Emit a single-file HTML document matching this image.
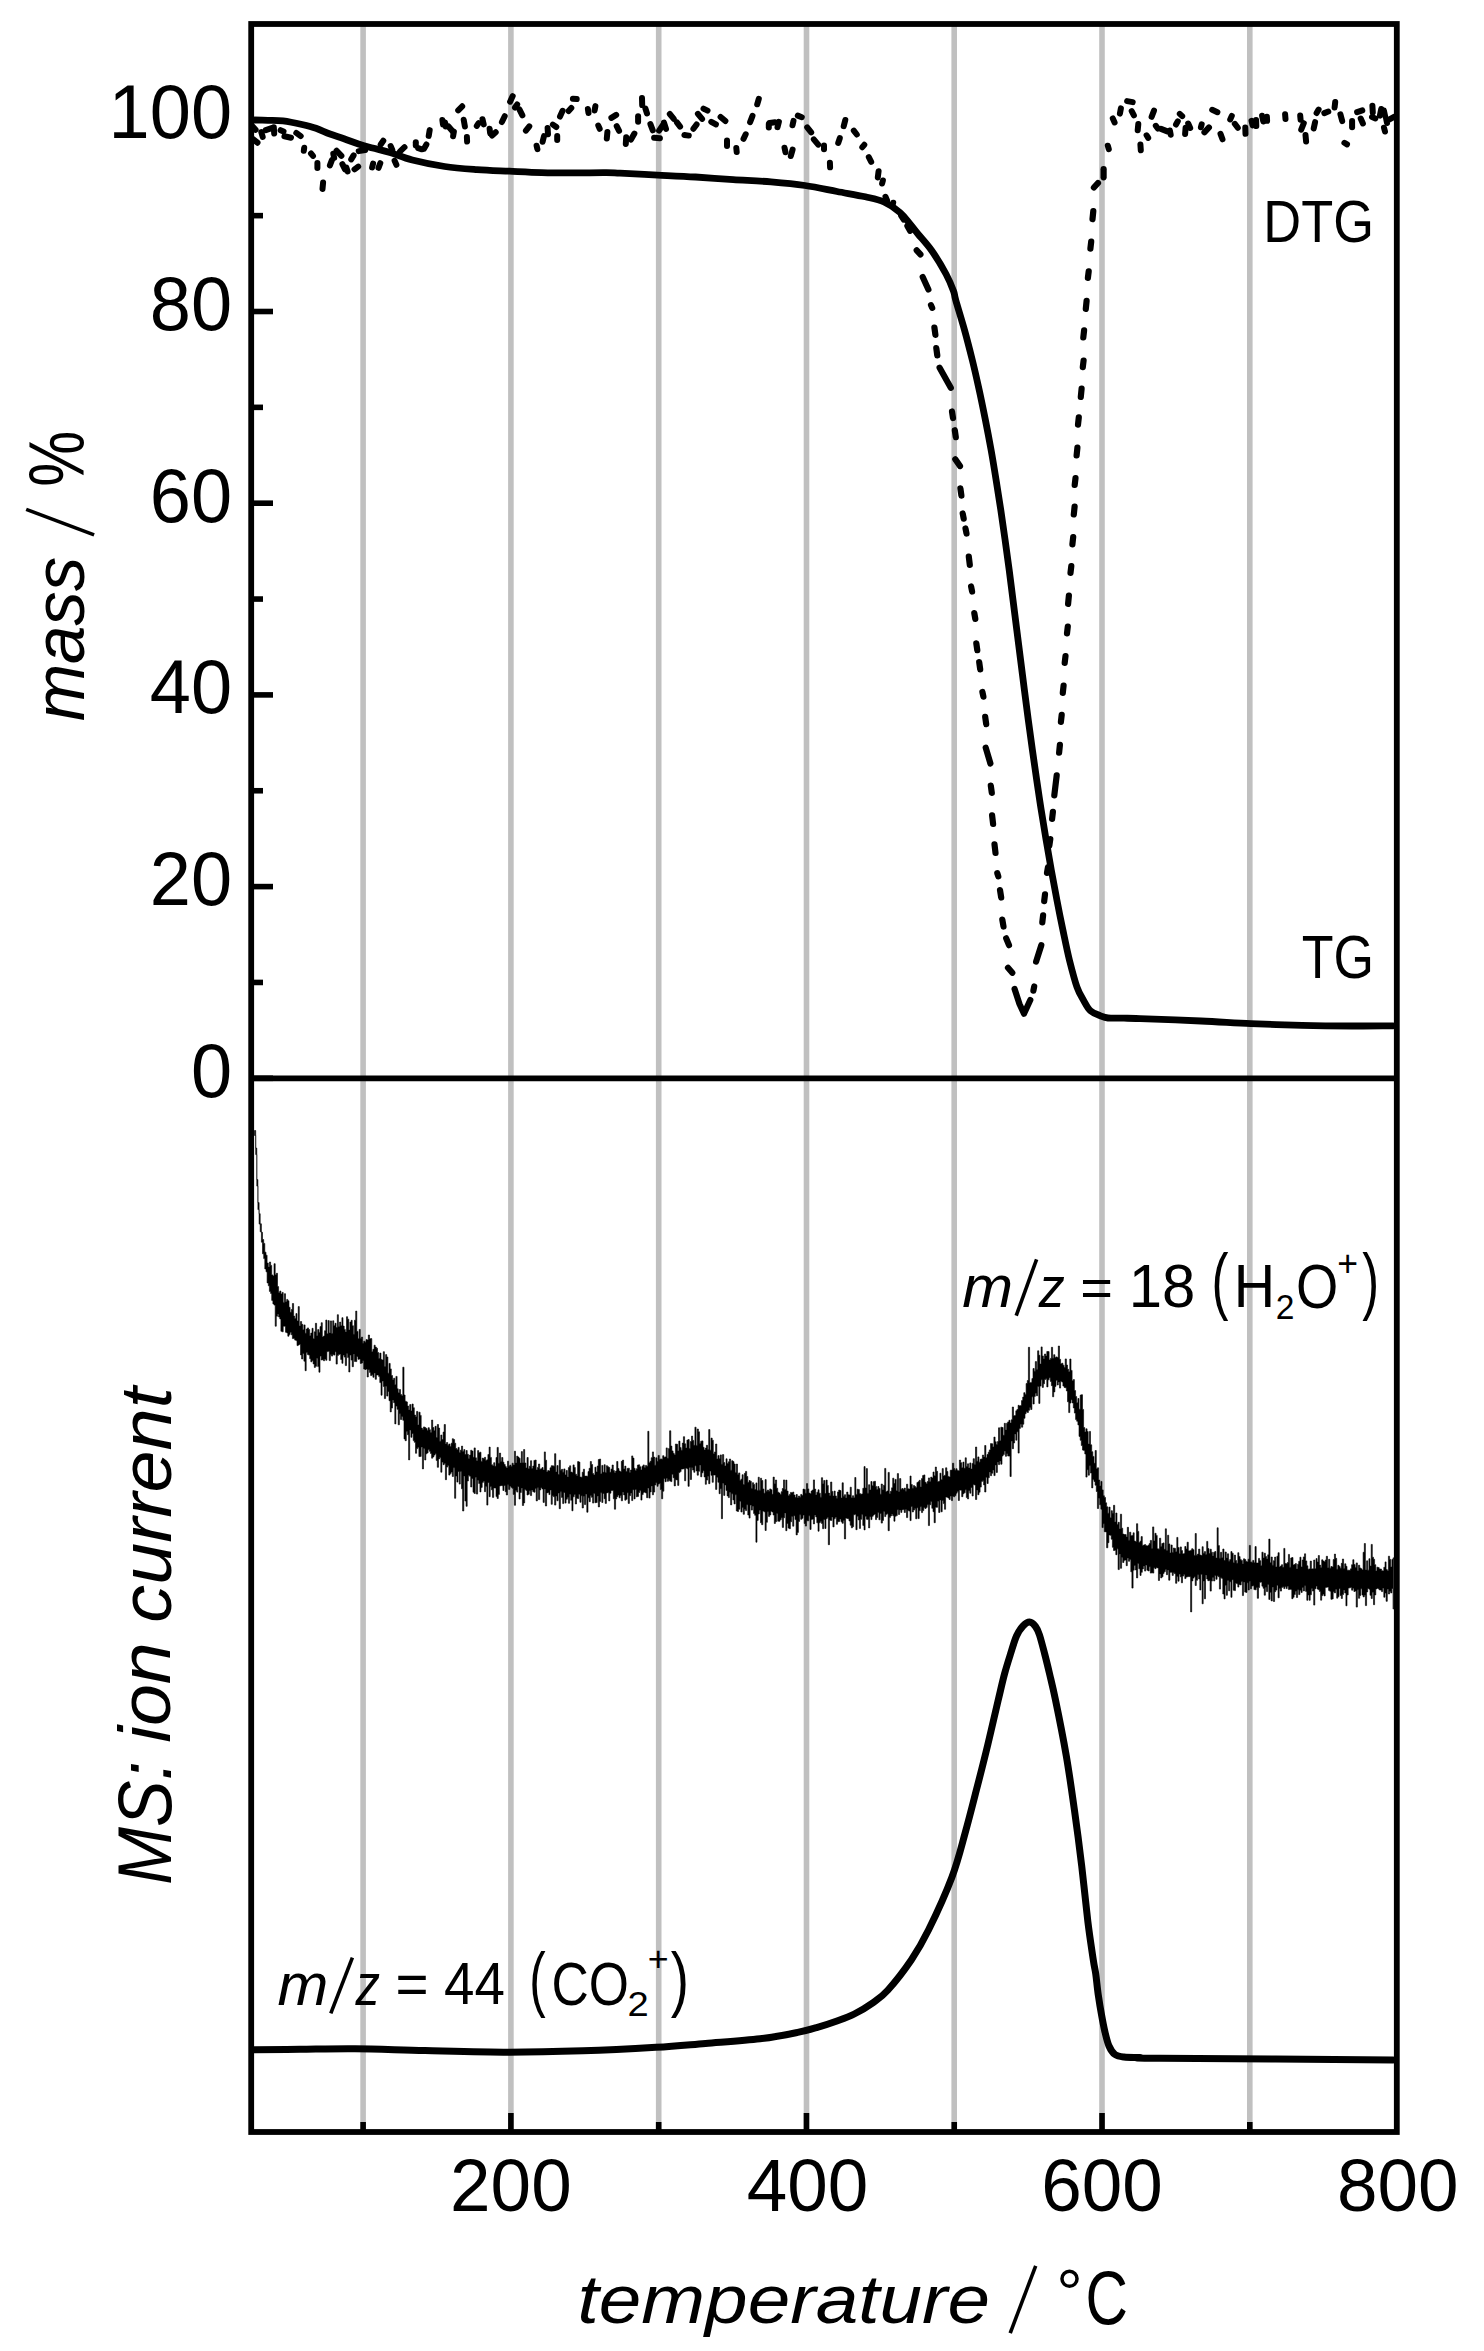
<!DOCTYPE html>
<html><head><meta charset="utf-8"><title>TG-MS</title>
<style>html,body{margin:0;padding:0;background:#fff;width:1484px;height:2351px;overflow:hidden}svg{display:block}</style>
</head><body>
<svg xmlns="http://www.w3.org/2000/svg" width="1484" height="2351" viewBox="0 0 1484 2351"><rect x="0" y="0" width="1484" height="2351" fill="#fff"/>
<line x1="363.1" y1="24.0" x2="363.1" y2="2132.0" stroke="#c0c0c0" stroke-width="5.6"/>
<line x1="510.9" y1="24.0" x2="510.9" y2="2132.0" stroke="#c0c0c0" stroke-width="5.6"/>
<line x1="658.7" y1="24.0" x2="658.7" y2="2132.0" stroke="#c0c0c0" stroke-width="5.6"/>
<line x1="806.5" y1="24.0" x2="806.5" y2="2132.0" stroke="#c0c0c0" stroke-width="5.6"/>
<line x1="954.2" y1="24.0" x2="954.2" y2="2132.0" stroke="#c0c0c0" stroke-width="5.6"/>
<line x1="1102.0" y1="24.0" x2="1102.0" y2="2132.0" stroke="#c0c0c0" stroke-width="5.6"/>
<line x1="1249.8" y1="24.0" x2="1249.8" y2="2132.0" stroke="#c0c0c0" stroke-width="5.6"/>
<path d="M254.5,1130.5 L255.7,1130.5 L255.7,1148.1 L256.8,1148.1 L256.8,1179.6 L257.9,1179.6 L257.9,1202.6 L259.1,1202.6 L259.1,1213.7 L260.2,1213.7 L260.2,1223.8 L261.4,1223.8 L261.4,1232.3 L262.5,1232.3 L262.5,1239.5 L263.7,1239.5 L263.7,1243.4 L264.8,1243.4 L264.8,1252.2 L266.0,1252.2 L266.0,1255.2 L267.1,1255.2 L267.1,1263.1 L268.3,1263.1 L268.3,1266.9 L269.4,1266.9 L269.4,1262.0 L270.6,1262.0 L270.6,1265.4 L271.7,1265.4 L271.7,1274.9 L272.9,1274.9 L272.9,1275.9 L274.0,1275.9 L274.0,1263.7 L275.2,1263.7 L275.2,1274.8 L276.3,1274.8 L276.3,1273.3 L277.5,1273.3 L277.5,1286.6 L278.6,1286.6 L278.6,1292.4 L279.8,1292.4 L279.8,1291.0 L280.9,1291.0 L280.9,1294.0 L282.1,1294.0 L282.1,1292.4 L283.2,1292.4 L283.2,1302.4 L284.4,1302.4 L284.4,1293.7 L285.5,1293.7 L285.5,1301.7 L286.7,1301.7 L286.7,1299.4 L287.8,1299.4 L287.8,1300.8 L289.0,1300.8 L289.0,1307.3 L290.1,1307.3 L290.1,1312.3 L291.3,1312.3 L291.3,1309.5 L292.4,1309.5 L292.4,1303.5 L293.6,1303.5 L293.6,1316.1 L294.7,1316.1 L294.7,1318.4 L295.9,1318.4 L295.9,1313.6 L297.0,1313.6 L297.0,1320.9 L298.2,1320.9 L298.2,1306.6 L299.3,1306.6 L299.3,1326.0 L300.5,1326.0 L300.5,1321.5 L301.6,1321.5 L301.6,1324.3 L302.8,1324.3 L302.8,1329.8 L303.9,1329.8 L303.9,1324.9 L305.1,1324.9 L305.1,1333.2 L306.2,1333.2 L306.2,1329.1 L307.4,1329.1 L307.4,1327.9 L308.5,1327.9 L308.5,1329.6 L309.7,1329.6 L309.7,1335.8 L310.8,1335.8 L310.8,1333.1 L312.0,1333.1 L312.0,1328.3 L313.1,1328.3 L313.1,1338.7 L314.3,1338.7 L314.3,1331.8 L315.4,1331.8 L315.4,1323.3 L316.6,1323.3 L316.6,1335.8 L317.7,1335.8 L317.7,1329.6 L318.9,1329.6 L318.9,1332.4 L320.0,1332.4 L320.0,1326.6 L321.2,1326.6 L321.2,1322.7 L322.3,1322.7 L322.3,1336.9 L323.5,1336.9 L323.5,1336.0 L324.6,1336.0 L324.6,1330.7 L325.8,1330.7 L325.8,1320.0 L326.9,1320.0 L326.9,1333.8 L328.1,1333.8 L328.1,1320.6 L329.2,1320.6 L329.2,1332.9 L330.4,1332.9 L330.4,1320.9 L331.5,1320.9 L331.5,1333.6 L332.7,1333.6 L332.7,1320.8 L333.8,1320.8 L333.8,1325.7 L335.0,1325.7 L335.0,1323.3 L336.1,1323.3 L336.1,1327.5 L337.3,1327.5 L337.3,1314.7 L338.4,1314.7 L338.4,1326.4 L339.6,1326.4 L339.6,1322.1 L340.7,1322.1 L340.7,1325.8 L341.9,1325.8 L341.9,1317.7 L343.0,1317.7 L343.0,1326.1 L344.2,1326.1 L344.2,1329.4 L345.3,1329.4 L345.3,1331.9 L346.5,1331.9 L346.5,1316.7 L347.6,1316.7 L347.6,1319.2 L348.8,1319.2 L348.8,1330.1 L349.9,1330.1 L349.9,1322.1 L351.1,1322.1 L351.1,1320.3 L352.2,1320.3 L352.2,1325.7 L353.4,1325.7 L353.4,1334.3 L354.5,1334.3 L354.5,1320.2 L355.7,1320.2 L355.7,1311.1 L356.8,1311.1 L356.8,1331.4 L358.0,1331.4 L358.0,1338.7 L359.1,1338.7 L359.1,1329.4 L360.3,1329.4 L360.3,1338.5 L361.4,1338.5 L361.4,1337.1 L362.6,1337.1 L362.6,1343.3 L363.7,1343.3 L363.7,1341.2 L364.9,1341.2 L364.9,1342.2 L366.0,1342.2 L366.0,1339.6 L367.2,1339.6 L367.2,1340.0 L368.3,1340.0 L368.3,1335.0 L369.5,1335.0 L369.5,1338.8 L370.6,1338.8 L370.6,1338.6 L371.8,1338.6 L371.8,1351.7 L372.9,1351.7 L372.9,1349.3 L374.1,1349.3 L374.1,1345.2 L375.2,1345.2 L375.2,1347.1 L376.4,1347.1 L376.4,1348.2 L377.5,1348.2 L377.5,1352.5 L378.7,1352.5 L378.7,1358.5 L379.8,1358.5 L379.8,1353.1 L381.0,1353.1 L381.0,1359.6 L382.1,1359.6 L382.1,1360.1 L383.3,1360.1 L383.3,1351.7 L384.4,1351.7 L384.4,1366.5 L385.6,1366.5 L385.6,1354.6 L386.7,1354.6 L386.7,1357.0 L387.9,1357.0 L387.9,1373.2 L389.0,1373.2 L389.0,1363.4 L390.2,1363.4 L390.2,1368.9 L391.3,1368.9 L391.3,1375.5 L392.5,1375.5 L392.5,1380.0 L393.6,1380.0 L393.6,1378.2 L394.8,1378.2 L394.8,1384.7 L395.9,1384.7 L395.9,1376.4 L397.1,1376.4 L397.1,1388.8 L398.2,1388.8 L398.2,1392.8 L399.4,1392.8 L399.4,1389.5 L400.5,1389.5 L400.5,1394.6 L401.7,1394.6 L401.7,1395.7 L402.8,1395.7 L402.8,1367.2 L404.0,1367.2 L404.0,1395.0 L405.1,1395.0 L405.1,1401.2 L406.3,1401.2 L406.3,1401.9 L407.4,1401.9 L407.4,1406.0 L408.6,1406.0 L408.6,1410.0 L409.7,1410.0 L409.7,1404.6 L410.9,1404.6 L410.9,1411.0 L412.0,1411.0 L412.0,1404.0 L413.2,1404.0 L413.2,1407.7 L414.3,1407.7 L414.3,1415.0 L415.5,1415.0 L415.5,1416.7 L416.6,1416.7 L416.6,1411.4 L417.8,1411.4 L417.8,1424.9 L418.9,1424.9 L418.9,1412.2 L420.1,1412.2 L420.1,1415.4 L421.2,1415.4 L421.2,1428.1 L422.4,1428.1 L422.4,1429.5 L423.5,1429.5 L423.5,1426.9 L424.7,1426.9 L424.7,1427.6 L425.8,1427.6 L425.8,1428.4 L427.0,1428.4 L427.0,1430.4 L428.1,1430.4 L428.1,1427.7 L429.3,1427.7 L429.3,1429.7 L430.4,1429.7 L430.4,1432.6 L431.6,1432.6 L431.6,1420.0 L432.7,1420.0 L432.7,1427.5 L433.9,1427.5 L433.9,1430.7 L435.0,1430.7 L435.0,1426.3 L436.2,1426.3 L436.2,1437.6 L437.3,1437.6 L437.3,1424.5 L438.5,1424.5 L438.5,1428.0 L439.6,1428.0 L439.6,1441.2 L440.8,1441.2 L440.8,1435.0 L441.9,1435.0 L441.9,1439.6 L443.1,1439.6 L443.1,1432.1 L444.2,1432.1 L444.2,1424.5 L445.4,1424.5 L445.4,1443.9 L446.5,1443.9 L446.5,1442.5 L447.7,1442.5 L447.7,1445.2 L448.8,1445.2 L448.8,1444.0 L450.0,1444.0 L450.0,1446.4 L451.1,1446.4 L451.1,1443.2 L452.3,1443.2 L452.3,1438.7 L453.4,1438.7 L453.4,1439.5 L454.6,1439.5 L454.6,1443.2 L455.7,1443.2 L455.7,1448.5 L456.9,1448.5 L456.9,1449.8 L458.0,1449.8 L458.0,1447.4 L459.2,1447.4 L459.2,1452.4 L460.3,1452.4 L460.3,1450.2 L461.5,1450.2 L461.5,1446.1 L462.6,1446.1 L462.6,1451.5 L463.8,1451.5 L463.8,1449.6 L464.9,1449.6 L464.9,1454.5 L466.1,1454.5 L466.1,1450.5 L467.2,1450.5 L467.2,1454.3 L468.4,1454.3 L468.4,1458.4 L469.5,1458.4 L469.5,1455.1 L470.7,1455.1 L470.7,1450.2 L471.8,1450.2 L471.8,1451.1 L473.0,1451.1 L473.0,1457.3 L474.1,1457.3 L474.1,1447.9 L475.3,1447.9 L475.3,1457.8 L476.4,1457.8 L476.4,1460.7 L477.6,1460.7 L477.6,1450.6 L478.7,1450.6 L478.7,1452.7 L479.9,1452.7 L479.9,1452.2 L481.0,1452.2 L481.0,1461.4 L482.2,1461.4 L482.2,1458.1 L483.3,1458.1 L483.3,1458.4 L484.5,1458.4 L484.5,1457.3 L485.6,1457.3 L485.6,1460.5 L486.8,1460.5 L486.8,1459.7 L487.9,1459.7 L487.9,1454.5 L489.1,1454.5 L489.1,1447.1 L490.2,1447.1 L490.2,1457.4 L491.4,1457.4 L491.4,1464.7 L492.5,1464.7 L492.5,1465.7 L493.7,1465.7 L493.7,1462.7 L494.8,1462.7 L494.8,1466.3 L496.0,1466.3 L496.0,1457.5 L497.1,1457.5 L497.1,1447.4 L498.3,1447.4 L498.3,1463.3 L499.4,1463.3 L499.4,1453.1 L500.6,1453.1 L500.6,1461.4 L501.7,1461.4 L501.7,1457.5 L502.9,1457.5 L502.9,1462.2 L504.0,1462.2 L504.0,1464.5 L505.2,1464.5 L505.2,1466.6 L506.3,1466.6 L506.3,1467.9 L507.5,1467.9 L507.5,1461.2 L508.6,1461.2 L508.6,1466.3 L509.8,1466.3 L509.8,1465.1 L510.9,1465.1 L510.9,1466.4 L512.1,1466.4 L512.1,1463.2 L513.2,1463.2 L513.2,1464.9 L514.4,1464.9 L514.4,1451.2 L515.5,1451.2 L515.5,1463.1 L516.7,1463.1 L516.7,1456.1 L517.8,1456.1 L517.8,1457.1 L519.0,1457.1 L519.0,1458.3 L520.1,1458.3 L520.1,1463.1 L521.3,1463.1 L521.3,1451.6 L522.4,1451.6 L522.4,1462.8 L523.6,1462.8 L523.6,1449.5 L524.7,1449.5 L524.7,1463.0 L525.9,1463.0 L525.9,1468.0 L527.0,1468.0 L527.0,1457.5 L528.2,1457.5 L528.2,1468.8 L529.3,1468.8 L529.3,1466.2 L530.5,1466.2 L530.5,1460.7 L531.6,1460.7 L531.6,1468.6 L532.8,1468.6 L532.8,1466.0 L533.9,1466.0 L533.9,1460.4 L535.1,1460.4 L535.1,1460.0 L536.2,1460.0 L536.2,1469.9 L537.4,1469.9 L537.4,1467.4 L538.5,1467.4 L538.5,1464.0 L539.7,1464.0 L539.7,1469.2 L540.8,1469.2 L540.8,1468.8 L542.0,1468.8 L542.0,1467.5 L543.1,1467.5 L543.1,1470.1 L544.3,1470.1 L544.3,1451.9 L545.4,1451.9 L545.4,1460.2 L546.6,1460.2 L546.6,1472.0 L547.7,1472.0 L547.7,1470.6 L548.9,1470.6 L548.9,1470.9 L550.0,1470.9 L550.0,1467.8 L551.2,1467.8 L551.2,1465.7 L552.3,1465.7 L552.3,1465.8 L553.5,1465.8 L553.5,1466.3 L554.6,1466.3 L554.6,1453.7 L555.8,1453.7 L555.8,1472.1 L556.9,1472.1 L556.9,1465.6 L558.1,1465.6 L558.1,1474.5 L559.2,1474.5 L559.2,1460.2 L560.4,1460.2 L560.4,1470.3 L561.5,1470.3 L561.5,1469.3 L562.7,1469.3 L562.7,1472.2 L563.8,1472.2 L563.8,1468.9 L565.0,1468.9 L565.0,1474.9 L566.1,1474.9 L566.1,1470.4 L567.3,1470.4 L567.3,1476.9 L568.4,1476.9 L568.4,1467.6 L569.6,1467.6 L569.6,1465.8 L570.7,1465.8 L570.7,1472.1 L571.9,1472.1 L571.9,1472.4 L573.0,1472.4 L573.0,1464.9 L574.2,1464.9 L574.2,1467.5 L575.3,1467.5 L575.3,1474.2 L576.5,1474.2 L576.5,1475.7 L577.6,1475.7 L577.6,1461.6 L578.8,1461.6 L578.8,1462.1 L579.9,1462.1 L579.9,1477.1 L581.1,1477.1 L581.1,1477.2 L582.2,1477.2 L582.2,1472.2 L583.4,1472.2 L583.4,1469.2 L584.5,1469.2 L584.5,1476.1 L585.7,1476.1 L585.7,1476.1 L586.8,1476.1 L586.8,1476.2 L588.0,1476.2 L588.0,1471.6 L589.1,1471.6 L589.1,1468.3 L590.3,1468.3 L590.3,1461.5 L591.4,1461.5 L591.4,1464.5 L592.6,1464.5 L592.6,1473.6 L593.7,1473.6 L593.7,1475.0 L594.9,1475.0 L594.9,1467.2 L596.0,1467.2 L596.0,1471.9 L597.2,1471.9 L597.2,1466.0 L598.3,1466.0 L598.3,1459.5 L599.5,1459.5 L599.5,1459.0 L600.6,1459.0 L600.6,1473.8 L601.8,1473.8 L601.8,1465.4 L602.9,1465.4 L602.9,1472.3 L604.1,1472.3 L604.1,1464.7 L605.2,1464.7 L605.2,1472.4 L606.4,1472.4 L606.4,1465.7 L607.5,1465.7 L607.5,1466.7 L608.7,1466.7 L608.7,1467.5 L609.8,1467.5 L609.8,1472.3 L611.0,1472.3 L611.0,1469.1 L612.1,1469.1 L612.1,1465.0 L613.3,1465.0 L613.3,1470.5 L614.4,1470.5 L614.4,1472.8 L615.6,1472.8 L615.6,1471.0 L616.7,1471.0 L616.7,1461.5 L617.9,1461.5 L617.9,1468.5 L619.0,1468.5 L619.0,1471.0 L620.2,1471.0 L620.2,1471.8 L621.3,1471.8 L621.3,1461.3 L622.5,1461.3 L622.5,1460.1 L623.6,1460.1 L623.6,1469.0 L624.8,1469.0 L624.8,1466.1 L625.9,1466.1 L625.9,1471.4 L627.1,1471.4 L627.1,1468.4 L628.2,1468.4 L628.2,1468.2 L629.4,1468.2 L629.4,1472.5 L630.5,1472.5 L630.5,1470.0 L631.7,1470.0 L631.7,1455.9 L632.8,1455.9 L632.8,1458.1 L634.0,1458.1 L634.0,1468.3 L635.1,1468.3 L635.1,1470.4 L636.3,1470.4 L636.3,1468.7 L637.4,1468.7 L637.4,1465.1 L638.6,1465.1 L638.6,1464.8 L639.7,1464.8 L639.7,1466.8 L640.9,1466.8 L640.9,1470.0 L642.0,1470.0 L642.0,1466.2 L643.2,1466.2 L643.2,1464.9 L644.3,1464.9 L644.3,1467.4 L645.5,1467.4 L645.5,1465.4 L646.6,1465.4 L646.6,1466.3 L647.8,1466.3 L647.8,1431.3 L648.9,1431.3 L648.9,1462.8 L650.1,1462.8 L650.1,1461.3 L651.2,1461.3 L651.2,1457.7 L652.4,1457.7 L652.4,1451.9 L653.5,1451.9 L653.5,1457.1 L654.7,1457.1 L654.7,1465.2 L655.8,1465.2 L655.8,1457.8 L657.0,1457.8 L657.0,1461.5 L658.1,1461.5 L658.1,1455.4 L659.3,1455.4 L659.3,1459.5 L660.4,1459.5 L660.4,1458.9 L661.6,1458.9 L661.6,1459.3 L662.7,1459.3 L662.7,1455.7 L663.9,1455.7 L663.9,1457.3 L665.0,1457.3 L665.0,1456.9 L666.2,1456.9 L666.2,1447.9 L667.3,1447.9 L667.3,1458.3 L668.5,1458.3 L668.5,1448.6 L669.6,1448.6 L669.6,1430.8 L670.8,1430.8 L670.8,1446.1 L671.9,1446.1 L671.9,1450.9 L673.1,1450.9 L673.1,1453.3 L674.2,1453.3 L674.2,1454.7 L675.4,1454.7 L675.4,1444.0 L676.5,1444.0 L676.5,1444.3 L677.7,1444.3 L677.7,1451.0 L678.8,1451.0 L678.8,1441.1 L680.0,1441.1 L680.0,1447.6 L681.1,1447.6 L681.1,1450.2 L682.3,1450.2 L682.3,1443.1 L683.4,1443.1 L683.4,1436.7 L684.6,1436.7 L684.6,1443.8 L685.7,1443.8 L685.7,1448.1 L686.9,1448.1 L686.9,1440.1 L688.0,1440.1 L688.0,1439.6 L689.2,1439.6 L689.2,1448.6 L690.3,1448.6 L690.3,1441.5 L691.5,1441.5 L691.5,1436.1 L692.6,1436.1 L692.6,1440.4 L693.8,1440.4 L693.8,1445.3 L694.9,1445.3 L694.9,1427.2 L696.1,1427.2 L696.1,1445.4 L697.2,1445.4 L697.2,1429.0 L698.4,1429.0 L698.4,1431.8 L699.5,1431.8 L699.5,1443.6 L700.7,1443.6 L700.7,1441.2 L701.8,1441.2 L701.8,1440.9 L703.0,1440.9 L703.0,1447.3 L704.1,1447.3 L704.1,1449.9 L705.3,1449.9 L705.3,1448.1 L706.4,1448.1 L706.4,1445.3 L707.6,1445.3 L707.6,1449.6 L708.7,1449.6 L708.7,1429.6 L709.9,1429.6 L709.9,1450.2 L711.0,1450.2 L711.0,1438.1 L712.2,1438.1 L712.2,1440.2 L713.3,1440.2 L713.3,1453.8 L714.5,1453.8 L714.5,1451.9 L715.6,1451.9 L715.6,1444.0 L716.8,1444.0 L716.8,1459.0 L717.9,1459.0 L717.9,1455.6 L719.1,1455.6 L719.1,1458.8 L720.2,1458.8 L720.2,1454.9 L721.4,1454.9 L721.4,1464.3 L722.5,1464.3 L722.5,1454.6 L723.7,1454.6 L723.7,1462.6 L724.8,1462.6 L724.8,1465.9 L726.0,1465.9 L726.0,1458.8 L727.1,1458.8 L727.1,1463.6 L728.3,1463.6 L728.3,1461.8 L729.4,1461.8 L729.4,1459.0 L730.6,1459.0 L730.6,1470.2 L731.7,1470.2 L731.7,1460.7 L732.9,1460.7 L732.9,1461.6 L734.0,1461.6 L734.0,1464.0 L735.2,1464.0 L735.2,1472.4 L736.3,1472.4 L736.3,1464.1 L737.5,1464.1 L737.5,1474.5 L738.6,1474.5 L738.6,1472.9 L739.8,1472.9 L739.8,1480.5 L740.9,1480.5 L740.9,1479.2 L742.1,1479.2 L742.1,1474.7 L743.2,1474.7 L743.2,1484.5 L744.4,1484.5 L744.4,1473.3 L745.5,1473.3 L745.5,1471.4 L746.7,1471.4 L746.7,1476.5 L747.8,1476.5 L747.8,1482.5 L749.0,1482.5 L749.0,1480.5 L750.1,1480.5 L750.1,1481.2 L751.3,1481.2 L751.3,1488.5 L752.4,1488.5 L752.4,1482.7 L753.6,1482.7 L753.6,1484.4 L754.7,1484.4 L754.7,1489.5 L755.9,1489.5 L755.9,1482.9 L757.0,1482.9 L757.0,1490.4 L758.2,1490.4 L758.2,1477.2 L759.3,1477.2 L759.3,1490.2 L760.5,1490.2 L760.5,1478.2 L761.6,1478.2 L761.6,1480.5 L762.8,1480.5 L762.8,1489.0 L763.9,1489.0 L763.9,1493.2 L765.1,1493.2 L765.1,1479.6 L766.2,1479.6 L766.2,1491.2 L767.4,1491.2 L767.4,1490.0 L768.5,1490.0 L768.5,1491.3 L769.7,1491.3 L769.7,1488.9 L770.8,1488.9 L770.8,1489.8 L772.0,1489.8 L772.0,1494.3 L773.1,1494.3 L773.1,1477.1 L774.3,1477.1 L774.3,1483.8 L775.4,1483.8 L775.4,1480.0 L776.6,1480.0 L776.6,1488.2 L777.7,1488.2 L777.7,1492.2 L778.9,1492.2 L778.9,1493.1 L780.0,1493.1 L780.0,1494.6 L781.2,1494.6 L781.2,1491.7 L782.3,1491.7 L782.3,1488.5 L783.5,1488.5 L783.5,1479.9 L784.6,1479.9 L784.6,1489.5 L785.8,1489.5 L785.8,1480.1 L786.9,1480.1 L786.9,1491.1 L788.1,1491.1 L788.1,1495.7 L789.2,1495.7 L789.2,1494.4 L790.4,1494.4 L790.4,1492.4 L791.5,1492.4 L791.5,1492.8 L792.7,1492.8 L792.7,1492.0 L793.8,1492.0 L793.8,1495.0 L795.0,1495.0 L795.0,1497.5 L796.1,1497.5 L796.1,1494.5 L797.3,1494.5 L797.3,1497.7 L798.4,1497.7 L798.4,1496.0 L799.6,1496.0 L799.6,1497.3 L800.7,1497.3 L800.7,1494.4 L801.9,1494.4 L801.9,1495.6 L803.0,1495.6 L803.0,1489.1 L804.2,1489.1 L804.2,1489.6 L805.3,1489.6 L805.3,1493.3 L806.5,1493.3 L806.5,1483.6 L807.6,1483.6 L807.6,1488.9 L808.8,1488.9 L808.8,1493.1 L809.9,1493.1 L809.9,1493.7 L811.1,1493.7 L811.1,1491.1 L812.2,1491.1 L812.2,1490.0 L813.4,1490.0 L813.4,1479.9 L814.5,1479.9 L814.5,1489.1 L815.7,1489.1 L815.7,1494.9 L816.8,1494.9 L816.8,1492.2 L818.0,1492.2 L818.0,1489.8 L819.1,1489.8 L819.1,1493.2 L820.3,1493.2 L820.3,1497.2 L821.4,1497.2 L821.4,1477.7 L822.6,1477.7 L822.6,1483.8 L823.7,1483.8 L823.7,1480.5 L824.9,1480.5 L824.9,1493.5 L826.0,1493.5 L826.0,1480.1 L827.2,1480.1 L827.2,1485.4 L828.3,1485.4 L828.3,1493.1 L829.5,1493.1 L829.5,1495.4 L830.6,1495.4 L830.6,1482.0 L831.8,1482.0 L831.8,1491.4 L832.9,1491.4 L832.9,1496.1 L834.1,1496.1 L834.1,1491.0 L835.2,1491.0 L835.2,1495.9 L836.4,1495.9 L836.4,1498.2 L837.5,1498.2 L837.5,1491.9 L838.7,1491.9 L838.7,1490.0 L839.8,1490.0 L839.8,1490.6 L841.0,1490.6 L841.0,1498.1 L842.1,1498.1 L842.1,1482.8 L843.3,1482.8 L843.3,1496.2 L844.4,1496.2 L844.4,1494.7 L845.6,1494.7 L845.6,1498.0 L846.7,1498.0 L846.7,1492.1 L847.9,1492.1 L847.9,1494.8 L849.0,1494.8 L849.0,1494.9 L850.2,1494.9 L850.2,1487.2 L851.3,1487.2 L851.3,1497.7 L852.5,1497.7 L852.5,1495.7 L853.6,1495.7 L853.6,1497.7 L854.8,1497.7 L854.8,1477.5 L855.9,1477.5 L855.9,1494.4 L857.1,1494.4 L857.1,1489.2 L858.2,1489.2 L858.2,1489.6 L859.4,1489.6 L859.4,1493.6 L860.5,1493.6 L860.5,1494.3 L861.7,1494.3 L861.7,1493.9 L862.8,1493.9 L862.8,1488.3 L864.0,1488.3 L864.0,1466.6 L865.1,1466.6 L865.1,1487.9 L866.3,1487.9 L866.3,1468.6 L867.4,1468.6 L867.4,1493.2 L868.6,1493.2 L868.6,1484.7 L869.7,1484.7 L869.7,1489.9 L870.9,1489.9 L870.9,1481.5 L872.0,1481.5 L872.0,1485.7 L873.2,1485.7 L873.2,1481.7 L874.3,1481.7 L874.3,1481.3 L875.5,1481.3 L875.5,1486.4 L876.6,1486.4 L876.6,1489.6 L877.8,1489.6 L877.8,1486.5 L878.9,1486.5 L878.9,1488.4 L880.1,1488.4 L880.1,1494.2 L881.2,1494.2 L881.2,1484.0 L882.4,1484.0 L882.4,1489.7 L883.5,1489.7 L883.5,1485.2 L884.7,1485.2 L884.7,1468.4 L885.8,1468.4 L885.8,1491.7 L887.0,1491.7 L887.0,1491.0 L888.1,1491.0 L888.1,1472.4 L889.3,1472.4 L889.3,1493.7 L890.4,1493.7 L890.4,1491.3 L891.6,1491.3 L891.6,1487.8 L892.7,1487.8 L892.7,1478.2 L893.9,1478.2 L893.9,1483.5 L895.0,1483.5 L895.0,1479.4 L896.2,1479.4 L896.2,1490.7 L897.3,1490.7 L897.3,1473.6 L898.5,1473.6 L898.5,1491.8 L899.6,1491.8 L899.6,1478.6 L900.8,1478.6 L900.8,1489.2 L901.9,1489.2 L901.9,1488.5 L903.1,1488.5 L903.1,1489.5 L904.2,1489.5 L904.2,1488.1 L905.4,1488.1 L905.4,1491.3 L906.5,1491.3 L906.5,1484.2 L907.7,1484.2 L907.7,1488.8 L908.8,1488.8 L908.8,1489.1 L910.0,1489.1 L910.0,1476.0 L911.1,1476.0 L911.1,1484.5 L912.3,1484.5 L912.3,1488.3 L913.4,1488.3 L913.4,1485.6 L914.6,1485.6 L914.6,1486.6 L915.7,1486.6 L915.7,1487.4 L916.9,1487.4 L916.9,1482.6 L918.0,1482.6 L918.0,1481.7 L919.2,1481.7 L919.2,1480.3 L920.3,1480.3 L920.3,1487.0 L921.5,1487.0 L921.5,1478.6 L922.6,1478.6 L922.6,1475.5 L923.8,1475.5 L923.8,1474.9 L924.9,1474.9 L924.9,1482.3 L926.1,1482.3 L926.1,1483.7 L927.2,1483.7 L927.2,1481.6 L928.4,1481.6 L928.4,1477.9 L929.5,1477.9 L929.5,1481.4 L930.7,1481.4 L930.7,1477.1 L931.8,1477.1 L931.8,1477.9 L933.0,1477.9 L933.0,1472.0 L934.1,1472.0 L934.1,1475.8 L935.3,1475.8 L935.3,1467.0 L936.4,1467.0 L936.4,1471.3 L937.6,1471.3 L937.6,1481.8 L938.7,1481.8 L938.7,1481.3 L939.9,1481.3 L939.9,1473.2 L941.0,1473.2 L941.0,1479.7 L942.2,1479.7 L942.2,1468.6 L943.3,1468.6 L943.3,1476.1 L944.5,1476.1 L944.5,1475.2 L945.6,1475.2 L945.6,1467.8 L946.8,1467.8 L946.8,1471.5 L947.9,1471.5 L947.9,1476.4 L949.1,1476.4 L949.1,1477.1 L950.2,1477.1 L950.2,1470.2 L951.4,1470.2 L951.4,1470.1 L952.5,1470.1 L952.5,1463.2 L953.7,1463.2 L953.7,1468.4 L954.8,1468.4 L954.8,1470.2 L956.0,1470.2 L956.0,1468.7 L957.1,1468.7 L957.1,1470.6 L958.3,1470.6 L958.3,1470.7 L959.4,1470.7 L959.4,1460.1 L960.6,1460.1 L960.6,1462.7 L961.7,1462.7 L961.7,1467.8 L962.9,1467.8 L962.9,1462.1 L964.0,1462.1 L964.0,1468.3 L965.2,1468.3 L965.2,1457.8 L966.3,1457.8 L966.3,1466.6 L967.5,1466.6 L967.5,1463.8 L968.6,1463.8 L968.6,1467.9 L969.8,1467.9 L969.8,1462.9 L970.9,1462.9 L970.9,1469.1 L972.1,1469.1 L972.1,1463.4 L973.2,1463.4 L973.2,1458.7 L974.4,1458.7 L974.4,1464.6 L975.5,1464.6 L975.5,1447.0 L976.7,1447.0 L976.7,1461.3 L977.8,1461.3 L977.8,1456.9 L979.0,1456.9 L979.0,1462.2 L980.1,1462.2 L980.1,1459.3 L981.3,1459.3 L981.3,1458.9 L982.4,1458.9 L982.4,1455.1 L983.6,1455.1 L983.6,1456.9 L984.7,1456.9 L984.7,1445.5 L985.9,1445.5 L985.9,1457.7 L987.0,1457.7 L987.0,1454.5 L988.2,1454.5 L988.2,1452.2 L989.3,1452.2 L989.3,1449.9 L990.5,1449.9 L990.5,1443.6 L991.6,1443.6 L991.6,1443.8 L992.8,1443.8 L992.8,1447.0 L993.9,1447.0 L993.9,1437.1 L995.1,1437.1 L995.1,1441.7 L996.2,1441.7 L996.2,1444.5 L997.4,1444.5 L997.4,1441.6 L998.5,1441.6 L998.5,1427.8 L999.7,1427.8 L999.7,1440.8 L1000.8,1440.8 L1000.8,1427.2 L1002.0,1427.2 L1002.0,1427.5 L1003.1,1427.5 L1003.1,1435.3 L1004.3,1435.3 L1004.3,1423.3 L1005.4,1423.3 L1005.4,1429.9 L1006.6,1429.9 L1006.6,1423.2 L1007.7,1423.2 L1007.7,1421.9 L1008.9,1421.9 L1008.9,1420.3 L1010.0,1420.3 L1010.0,1423.1 L1011.2,1423.1 L1011.2,1419.8 L1012.3,1419.8 L1012.3,1407.0 L1013.5,1407.0 L1013.5,1415.8 L1014.6,1415.8 L1014.6,1415.6 L1015.8,1415.6 L1015.8,1410.8 L1016.9,1410.8 L1016.9,1409.5 L1018.1,1409.5 L1018.1,1405.3 L1019.2,1405.3 L1019.2,1406.0 L1020.4,1406.0 L1020.4,1405.6 L1021.5,1405.6 L1021.5,1400.6 L1022.7,1400.6 L1022.7,1397.1 L1023.8,1397.1 L1023.8,1392.7 L1025.0,1392.7 L1025.0,1394.4 L1026.1,1394.4 L1026.1,1383.5 L1027.3,1383.5 L1027.3,1380.5 L1028.4,1380.5 L1028.4,1347.3 L1029.6,1347.3 L1029.6,1382.7 L1030.7,1382.7 L1030.7,1382.4 L1031.9,1382.4 L1031.9,1378.6 L1033.0,1378.6 L1033.0,1368.5 L1034.2,1368.5 L1034.2,1371.2 L1035.3,1371.2 L1035.3,1361.6 L1036.5,1361.6 L1036.5,1369.6 L1037.6,1369.6 L1037.6,1350.8 L1038.8,1350.8 L1038.8,1355.3 L1039.9,1355.3 L1039.9,1364.1 L1041.1,1364.1 L1041.1,1346.9 L1042.2,1346.9 L1042.2,1355.9 L1043.4,1355.9 L1043.4,1359.1 L1044.5,1359.1 L1044.5,1354.0 L1045.7,1354.0 L1045.7,1356.0 L1046.8,1356.0 L1046.8,1351.5 L1048.0,1351.5 L1048.0,1351.6 L1049.1,1351.6 L1049.1,1359.9 L1050.3,1359.9 L1050.3,1358.4 L1051.4,1358.4 L1051.4,1347.3 L1052.6,1347.3 L1052.6,1358.3 L1053.7,1358.3 L1053.7,1354.7 L1054.9,1354.7 L1054.9,1357.4 L1056.0,1357.4 L1056.0,1356.9 L1057.2,1356.9 L1057.2,1357.6 L1058.3,1357.6 L1058.3,1346.0 L1059.5,1346.0 L1059.5,1359.3 L1060.6,1359.3 L1060.6,1363.7 L1061.8,1363.7 L1061.8,1363.2 L1062.9,1363.2 L1062.9,1365.2 L1064.1,1365.2 L1064.1,1367.6 L1065.2,1367.6 L1065.2,1358.9 L1066.4,1358.9 L1066.4,1365.0 L1067.5,1365.0 L1067.5,1369.3 L1068.7,1369.3 L1068.7,1371.7 L1069.8,1371.7 L1069.8,1359.0 L1071.0,1359.0 L1071.0,1370.4 L1072.1,1370.4 L1072.1,1380.8 L1073.3,1380.8 L1073.3,1379.6 L1074.4,1379.6 L1074.4,1390.6 L1075.6,1390.6 L1075.6,1396.6 L1076.7,1396.6 L1076.7,1402.7 L1077.9,1402.7 L1077.9,1398.5 L1079.0,1398.5 L1079.0,1409.2 L1080.2,1409.2 L1080.2,1395.1 L1081.3,1395.1 L1081.3,1394.7 L1082.5,1394.7 L1082.5,1409.4 L1083.6,1409.4 L1083.6,1427.6 L1084.8,1427.6 L1084.8,1432.0 L1085.9,1432.0 L1085.9,1428.8 L1087.1,1428.8 L1087.1,1431.6 L1088.2,1431.6 L1088.2,1444.1 L1089.4,1444.1 L1089.4,1431.4 L1090.5,1431.4 L1090.5,1444.8 L1091.7,1444.8 L1091.7,1451.7 L1092.8,1451.7 L1092.8,1456.4 L1094.0,1456.4 L1094.0,1463.3 L1095.1,1463.3 L1095.1,1450.5 L1096.3,1450.5 L1096.3,1468.7 L1097.4,1468.7 L1097.4,1467.8 L1098.6,1467.8 L1098.6,1480.0 L1099.7,1480.0 L1099.7,1485.9 L1100.9,1485.9 L1100.9,1481.4 L1102.0,1481.4 L1102.0,1489.9 L1103.2,1489.9 L1103.2,1495.7 L1104.3,1495.7 L1104.3,1497.4 L1105.5,1497.4 L1105.5,1502.8 L1106.6,1502.8 L1106.6,1506.8 L1107.8,1506.8 L1107.8,1513.2 L1108.9,1513.2 L1108.9,1507.1 L1110.1,1507.1 L1110.1,1517.7 L1111.2,1517.7 L1111.2,1510.7 L1112.4,1510.7 L1112.4,1513.3 L1113.5,1513.3 L1113.5,1505.3 L1114.7,1505.3 L1114.7,1521.9 L1115.8,1521.9 L1115.8,1513.0 L1117.0,1513.0 L1117.0,1524.4 L1118.1,1524.4 L1118.1,1522.3 L1119.3,1522.3 L1119.3,1529.0 L1120.4,1529.0 L1120.4,1514.2 L1121.6,1514.2 L1121.6,1528.2 L1122.7,1528.2 L1122.7,1534.1 L1123.9,1534.1 L1123.9,1534.6 L1125.0,1534.6 L1125.0,1534.6 L1126.2,1534.6 L1126.2,1537.0 L1127.3,1537.0 L1127.3,1527.3 L1128.5,1527.3 L1128.5,1540.2 L1129.6,1540.2 L1129.6,1532.2 L1130.8,1532.2 L1130.8,1535.7 L1131.9,1535.7 L1131.9,1535.4 L1133.1,1535.4 L1133.1,1532.8 L1134.2,1532.8 L1134.2,1541.0 L1135.4,1541.0 L1135.4,1541.7 L1136.5,1541.7 L1136.5,1523.7 L1137.7,1523.7 L1137.7,1531.4 L1138.8,1531.4 L1138.8,1542.6 L1140.0,1542.6 L1140.0,1541.2 L1141.1,1541.2 L1141.1,1536.6 L1142.3,1536.6 L1142.3,1545.4 L1143.4,1545.4 L1143.4,1545.1 L1144.6,1545.1 L1144.6,1544.6 L1145.7,1544.6 L1145.7,1545.7 L1146.9,1545.7 L1146.9,1546.1 L1148.0,1546.1 L1148.0,1545.2 L1149.2,1545.2 L1149.2,1543.6 L1150.3,1543.6 L1150.3,1540.4 L1151.5,1540.4 L1151.5,1548.6 L1152.6,1548.6 L1152.6,1526.9 L1153.8,1526.9 L1153.8,1540.9 L1154.9,1540.9 L1154.9,1533.3 L1156.1,1533.3 L1156.1,1535.4 L1157.2,1535.4 L1157.2,1548.7 L1158.4,1548.7 L1158.4,1549.3 L1159.5,1549.3 L1159.5,1538.2 L1160.7,1538.2 L1160.7,1546.4 L1161.8,1546.4 L1161.8,1543.5 L1163.0,1543.5 L1163.0,1542.9 L1164.1,1542.9 L1164.1,1549.3 L1165.3,1549.3 L1165.3,1528.8 L1166.4,1528.8 L1166.4,1550.6 L1167.6,1550.6 L1167.6,1535.2 L1168.7,1535.2 L1168.7,1543.9 L1169.9,1543.9 L1169.9,1553.0 L1171.0,1553.0 L1171.0,1545.0 L1172.2,1545.0 L1172.2,1552.6 L1173.3,1552.6 L1173.3,1548.0 L1174.5,1548.0 L1174.5,1548.4 L1175.6,1548.4 L1175.6,1551.8 L1176.8,1551.8 L1176.8,1537.4 L1177.9,1537.4 L1177.9,1547.6 L1179.1,1547.6 L1179.1,1553.7 L1180.2,1553.7 L1180.2,1546.9 L1181.4,1546.9 L1181.4,1550.6 L1182.5,1550.6 L1182.5,1554.0 L1183.7,1554.0 L1183.7,1553.6 L1184.8,1553.6 L1184.8,1546.5 L1186.0,1546.5 L1186.0,1549.0 L1187.1,1549.0 L1187.1,1542.2 L1188.3,1542.2 L1188.3,1550.8 L1189.4,1550.8 L1189.4,1551.0 L1190.6,1551.0 L1190.6,1550.2 L1191.7,1550.2 L1191.7,1548.7 L1192.9,1548.7 L1192.9,1549.7 L1194.0,1549.7 L1194.0,1555.4 L1195.2,1555.4 L1195.2,1533.5 L1196.3,1533.5 L1196.3,1555.3 L1197.5,1555.3 L1197.5,1554.0 L1198.6,1554.0 L1198.6,1549.1 L1199.8,1549.1 L1199.8,1555.0 L1200.9,1555.0 L1200.9,1555.5 L1202.1,1555.5 L1202.1,1546.7 L1203.2,1546.7 L1203.2,1553.2 L1204.4,1553.2 L1204.4,1551.6 L1205.5,1551.6 L1205.5,1554.5 L1206.7,1554.5 L1206.7,1541.4 L1207.8,1541.4 L1207.8,1548.6 L1209.0,1548.6 L1209.0,1553.6 L1210.1,1553.6 L1210.1,1549.2 L1211.3,1549.2 L1211.3,1552.2 L1212.4,1552.2 L1212.4,1555.9 L1213.6,1555.9 L1213.6,1552.3 L1214.8,1552.3 L1214.8,1551.5 L1215.9,1551.5 L1215.9,1558.1 L1217.1,1558.1 L1217.1,1527.8 L1218.2,1527.8 L1218.2,1545.6 L1219.4,1545.6 L1219.4,1558.2 L1220.5,1558.2 L1220.5,1552.3 L1221.7,1552.3 L1221.7,1557.7 L1222.8,1557.7 L1222.8,1549.0 L1224.0,1549.0 L1224.0,1560.5 L1225.1,1560.5 L1225.1,1552.0 L1226.3,1552.0 L1226.3,1557.9 L1227.4,1557.9 L1227.4,1553.8 L1228.6,1553.8 L1228.6,1561.3 L1229.7,1561.3 L1229.7,1559.6 L1230.9,1559.6 L1230.9,1551.6 L1232.0,1551.6 L1232.0,1553.2 L1233.2,1553.2 L1233.2,1562.7 L1234.3,1562.7 L1234.3,1555.1 L1235.5,1555.1 L1235.5,1560.5 L1236.6,1560.5 L1236.6,1563.3 L1237.8,1563.3 L1237.8,1552.7 L1238.9,1552.7 L1238.9,1556.6 L1240.1,1556.6 L1240.1,1559.4 L1241.2,1559.4 L1241.2,1560.4 L1242.4,1560.4 L1242.4,1564.1 L1243.5,1564.1 L1243.5,1558.8 L1244.7,1558.8 L1244.7,1559.6 L1245.8,1559.6 L1245.8,1561.4 L1247.0,1561.4 L1247.0,1562.0 L1248.1,1562.0 L1248.1,1559.2 L1249.3,1559.2 L1249.3,1545.4 L1250.4,1545.4 L1250.4,1561.9 L1251.6,1561.9 L1251.6,1562.4 L1252.7,1562.4 L1252.7,1560.4 L1253.9,1560.4 L1253.9,1562.8 L1255.0,1562.8 L1255.0,1546.6 L1256.2,1546.6 L1256.2,1563.0 L1257.3,1563.0 L1257.3,1563.0 L1258.5,1563.0 L1258.5,1558.4 L1259.6,1558.4 L1259.6,1560.7 L1260.8,1560.7 L1260.8,1565.8 L1261.9,1565.8 L1261.9,1552.2 L1263.1,1552.2 L1263.1,1558.1 L1264.2,1558.1 L1264.2,1553.2 L1265.4,1553.2 L1265.4,1556.5 L1266.5,1556.5 L1266.5,1559.0 L1267.7,1559.0 L1267.7,1554.8 L1268.8,1554.8 L1268.8,1539.1 L1270.0,1539.1 L1270.0,1562.8 L1271.1,1562.8 L1271.1,1557.0 L1272.3,1557.0 L1272.3,1565.2 L1273.4,1565.2 L1273.4,1560.7 L1274.6,1560.7 L1274.6,1557.1 L1275.7,1557.1 L1275.7,1567.0 L1276.9,1567.0 L1276.9,1556.2 L1278.0,1556.2 L1278.0,1552.7 L1279.2,1552.7 L1279.2,1567.1 L1280.3,1567.1 L1280.3,1566.0 L1281.5,1566.0 L1281.5,1564.7 L1282.6,1564.7 L1282.6,1567.3 L1283.8,1567.3 L1283.8,1548.4 L1284.9,1548.4 L1284.9,1563.5 L1286.1,1563.5 L1286.1,1563.8 L1287.2,1563.8 L1287.2,1562.6 L1288.4,1562.6 L1288.4,1554.4 L1289.5,1554.4 L1289.5,1567.2 L1290.7,1567.2 L1290.7,1558.0 L1291.8,1558.0 L1291.8,1557.5 L1293.0,1557.5 L1293.0,1565.0 L1294.1,1565.0 L1294.1,1564.5 L1295.3,1564.5 L1295.3,1563.6 L1296.4,1563.6 L1296.4,1569.1 L1297.6,1569.1 L1297.6,1564.2 L1298.7,1564.2 L1298.7,1561.3 L1299.9,1561.3 L1299.9,1557.2 L1301.0,1557.2 L1301.0,1566.9 L1302.2,1566.9 L1302.2,1560.0 L1303.3,1560.0 L1303.3,1556.9 L1304.5,1556.9 L1304.5,1553.8 L1305.6,1553.8 L1305.6,1560.9 L1306.8,1560.9 L1306.8,1565.8 L1307.9,1565.8 L1307.9,1569.2 L1309.1,1569.2 L1309.1,1568.9 L1310.2,1568.9 L1310.2,1561.1 L1311.4,1561.1 L1311.4,1569.1 L1312.5,1569.1 L1312.5,1568.8 L1313.7,1568.8 L1313.7,1560.0 L1314.8,1560.0 L1314.8,1568.8 L1316.0,1568.8 L1316.0,1558.6 L1317.1,1558.6 L1317.1,1561.9 L1318.3,1561.9 L1318.3,1555.5 L1319.4,1555.5 L1319.4,1565.1 L1320.6,1565.1 L1320.6,1567.4 L1321.7,1567.4 L1321.7,1559.8 L1322.9,1559.8 L1322.9,1561.1 L1324.0,1561.1 L1324.0,1561.8 L1325.2,1561.8 L1325.2,1560.0 L1326.3,1560.0 L1326.3,1556.3 L1327.5,1556.3 L1327.5,1567.8 L1328.6,1567.8 L1328.6,1559.3 L1329.8,1559.3 L1329.8,1568.2 L1330.9,1568.2 L1330.9,1566.5 L1332.1,1566.5 L1332.1,1567.0 L1333.2,1567.0 L1333.2,1559.5 L1334.4,1559.5 L1334.4,1554.1 L1335.5,1554.1 L1335.5,1558.3 L1336.7,1558.3 L1336.7,1569.2 L1337.8,1569.2 L1337.8,1565.3 L1339.0,1565.3 L1339.0,1566.4 L1340.1,1566.4 L1340.1,1568.2 L1341.3,1568.2 L1341.3,1563.3 L1342.4,1563.3 L1342.4,1559.0 L1343.6,1559.0 L1343.6,1568.5 L1344.7,1568.5 L1344.7,1563.8 L1345.9,1563.8 L1345.9,1566.3 L1347.0,1566.3 L1347.0,1570.2 L1348.2,1570.2 L1348.2,1570.2 L1349.3,1570.2 L1349.3,1570.3 L1350.5,1570.3 L1350.5,1568.8 L1351.6,1568.8 L1351.6,1564.7 L1352.8,1564.7 L1352.8,1559.7 L1353.9,1559.7 L1353.9,1564.6 L1355.1,1564.6 L1355.1,1567.4 L1356.2,1567.4 L1356.2,1562.9 L1357.4,1562.9 L1357.4,1570.7 L1358.5,1570.7 L1358.5,1565.2 L1359.7,1565.2 L1359.7,1567.9 L1360.8,1567.9 L1360.8,1568.8 L1362.0,1568.8 L1362.0,1570.0 L1363.1,1570.0 L1363.1,1552.3 L1364.3,1552.3 L1364.3,1543.5 L1365.4,1543.5 L1365.4,1570.0 L1366.6,1570.0 L1366.6,1560.8 L1367.7,1560.8 L1367.7,1570.2 L1368.9,1570.2 L1368.9,1558.7 L1370.0,1558.7 L1370.0,1566.1 L1371.2,1566.1 L1371.2,1544.4 L1372.3,1544.4 L1372.3,1557.2 L1373.5,1557.2 L1373.5,1559.2 L1374.6,1559.2 L1374.6,1564.7 L1375.8,1564.7 L1375.8,1571.0 L1376.9,1571.0 L1376.9,1567.2 L1378.1,1567.2 L1378.1,1567.6 L1379.2,1567.6 L1379.2,1569.0 L1380.4,1569.0 L1380.4,1569.0 L1381.5,1569.0 L1381.5,1570.7 L1382.7,1570.7 L1382.7,1571.0 L1383.8,1571.0 L1383.8,1567.3 L1385.0,1567.3 L1385.0,1561.9 L1386.1,1561.9 L1386.1,1569.6 L1387.3,1569.6 L1387.3,1570.7 L1388.4,1570.7 L1388.4,1556.2 L1389.6,1556.2 L1389.6,1559.4 L1390.7,1559.4 L1390.7,1567.0 L1391.9,1567.0 L1391.9,1559.5 L1393.0,1559.5 L1393.0,1557.8 L1393.5,1557.8 L1393.5,1609.1 L1393.0,1609.1 L1393.0,1588.5 L1391.9,1588.5 L1391.9,1592.9 L1390.7,1592.9 L1390.7,1591.6 L1389.6,1591.6 L1389.6,1594.0 L1388.4,1594.0 L1388.4,1589.1 L1387.3,1589.1 L1387.3,1601.3 L1386.1,1601.3 L1386.1,1593.1 L1385.0,1593.1 L1385.0,1597.2 L1383.8,1597.2 L1383.8,1588.0 L1382.7,1588.0 L1382.7,1591.6 L1381.5,1591.6 L1381.5,1590.1 L1380.4,1590.1 L1380.4,1589.9 L1379.2,1589.9 L1379.2,1588.8 L1378.1,1588.8 L1378.1,1588.2 L1376.9,1588.2 L1376.9,1588.9 L1375.8,1588.9 L1375.8,1594.9 L1374.6,1594.9 L1374.6,1604.7 L1373.5,1604.7 L1373.5,1592.2 L1372.3,1592.2 L1372.3,1598.5 L1371.2,1598.5 L1371.2,1595.3 L1370.0,1595.3 L1370.0,1589.2 L1368.9,1589.2 L1368.9,1588.4 L1367.7,1588.4 L1367.7,1591.9 L1366.6,1591.9 L1366.6,1605.6 L1365.4,1605.6 L1365.4,1595.3 L1364.3,1595.3 L1364.3,1596.9 L1363.1,1596.9 L1363.1,1595.0 L1362.0,1595.0 L1362.0,1588.8 L1360.8,1588.8 L1360.8,1595.5 L1359.7,1595.5 L1359.7,1598.3 L1358.5,1598.3 L1358.5,1589.7 L1357.4,1589.7 L1357.4,1607.1 L1356.2,1607.1 L1356.2,1590.9 L1355.1,1590.9 L1355.1,1591.5 L1353.9,1591.5 L1353.9,1588.2 L1352.8,1588.2 L1352.8,1590.2 L1351.6,1590.2 L1351.6,1587.6 L1350.5,1587.6 L1350.5,1587.8 L1349.3,1587.8 L1349.3,1588.1 L1348.2,1588.1 L1348.2,1594.9 L1347.0,1594.9 L1347.0,1605.8 L1345.9,1605.8 L1345.9,1593.0 L1344.7,1593.0 L1344.7,1589.9 L1343.6,1589.9 L1343.6,1594.6 L1342.4,1594.6 L1342.4,1598.5 L1341.3,1598.5 L1341.3,1595.4 L1340.1,1595.4 L1340.1,1588.5 L1339.0,1588.5 L1339.0,1596.8 L1337.8,1596.8 L1337.8,1598.2 L1336.7,1598.2 L1336.7,1589.2 L1335.5,1589.2 L1335.5,1592.9 L1334.4,1592.9 L1334.4,1591.7 L1333.2,1591.7 L1333.2,1598.9 L1332.1,1598.9 L1332.1,1599.3 L1330.9,1599.3 L1330.9,1591.3 L1329.8,1591.3 L1329.8,1590.4 L1328.6,1590.4 L1328.6,1587.1 L1327.5,1587.1 L1327.5,1587.2 L1326.3,1587.2 L1326.3,1587.5 L1325.2,1587.5 L1325.2,1595.9 L1324.0,1595.9 L1324.0,1594.0 L1322.9,1594.0 L1322.9,1595.6 L1321.7,1595.6 L1321.7,1600.2 L1320.6,1600.2 L1320.6,1591.5 L1319.4,1591.5 L1319.4,1589.7 L1318.3,1589.7 L1318.3,1589.1 L1317.1,1589.1 L1317.1,1586.1 L1316.0,1586.1 L1316.0,1588.7 L1314.8,1588.7 L1314.8,1605.1 L1313.7,1605.1 L1313.7,1591.1 L1312.5,1591.1 L1312.5,1588.5 L1311.4,1588.5 L1311.4,1594.7 L1310.2,1594.7 L1310.2,1600.3 L1309.1,1600.3 L1309.1,1594.9 L1307.9,1594.9 L1307.9,1600.3 L1306.8,1600.3 L1306.8,1591.4 L1305.6,1591.4 L1305.6,1585.7 L1304.5,1585.7 L1304.5,1590.9 L1303.3,1590.9 L1303.3,1587.4 L1302.2,1587.4 L1302.2,1592.4 L1301.0,1592.4 L1301.0,1590.3 L1299.9,1590.3 L1299.9,1594.6 L1298.7,1594.6 L1298.7,1589.8 L1297.6,1589.8 L1297.6,1597.5 L1296.4,1597.5 L1296.4,1591.3 L1295.3,1591.3 L1295.3,1594.5 L1294.1,1594.5 L1294.1,1597.3 L1293.0,1597.3 L1293.0,1598.7 L1291.8,1598.7 L1291.8,1589.4 L1290.7,1589.4 L1290.7,1589.2 L1289.5,1589.2 L1289.5,1589.6 L1288.4,1589.6 L1288.4,1586.2 L1287.2,1586.2 L1287.2,1588.6 L1286.1,1588.6 L1286.1,1586.4 L1284.9,1586.4 L1284.9,1588.6 L1283.8,1588.6 L1283.8,1586.7 L1282.6,1586.7 L1282.6,1587.4 L1281.5,1587.4 L1281.5,1591.1 L1280.3,1591.1 L1280.3,1588.6 L1279.2,1588.6 L1279.2,1597.8 L1278.0,1597.8 L1278.0,1585.2 L1276.9,1585.2 L1276.9,1590.1 L1275.7,1590.1 L1275.7,1591.7 L1274.6,1591.7 L1274.6,1601.5 L1273.4,1601.5 L1273.4,1587.0 L1272.3,1587.0 L1272.3,1600.9 L1271.1,1600.9 L1271.1,1592.3 L1270.0,1592.3 L1270.0,1599.4 L1268.8,1599.4 L1268.8,1584.4 L1267.7,1584.4 L1267.7,1591.6 L1266.5,1591.6 L1266.5,1587.6 L1265.4,1587.6 L1265.4,1595.2 L1264.2,1595.2 L1264.2,1588.3 L1263.1,1588.3 L1263.1,1586.2 L1261.9,1586.2 L1261.9,1582.1 L1260.8,1582.1 L1260.8,1582.3 L1259.6,1582.3 L1259.6,1587.6 L1258.5,1587.6 L1258.5,1598.3 L1257.3,1598.3 L1257.3,1587.4 L1256.2,1587.4 L1256.2,1589.8 L1255.0,1589.8 L1255.0,1589.6 L1253.9,1589.6 L1253.9,1585.8 L1252.7,1585.8 L1252.7,1586.0 L1251.6,1586.0 L1251.6,1588.8 L1250.4,1588.8 L1250.4,1581.3 L1249.3,1581.3 L1249.3,1590.0 L1248.1,1590.0 L1248.1,1582.7 L1247.0,1582.7 L1247.0,1592.4 L1245.8,1592.4 L1245.8,1592.1 L1244.7,1592.1 L1244.7,1582.0 L1243.5,1582.0 L1243.5,1595.6 L1242.4,1595.6 L1242.4,1581.5 L1241.2,1581.5 L1241.2,1584.9 L1240.1,1584.9 L1240.1,1584.5 L1238.9,1584.5 L1238.9,1587.1 L1237.8,1587.1 L1237.8,1583.8 L1236.6,1583.8 L1236.6,1583.1 L1235.5,1583.1 L1235.5,1590.6 L1234.3,1590.6 L1234.3,1590.2 L1233.2,1590.2 L1233.2,1579.7 L1232.0,1579.7 L1232.0,1597.3 L1230.9,1597.3 L1230.9,1581.7 L1229.7,1581.7 L1229.7,1590.8 L1228.6,1590.8 L1228.6,1580.5 L1227.4,1580.5 L1227.4,1595.3 L1226.3,1595.3 L1226.3,1585.3 L1225.1,1585.3 L1225.1,1598.9 L1224.0,1598.9 L1224.0,1594.0 L1222.8,1594.0 L1222.8,1578.4 L1221.7,1578.4 L1221.7,1577.7 L1220.5,1577.7 L1220.5,1589.1 L1219.4,1589.1 L1219.4,1576.7 L1218.2,1576.7 L1218.2,1575.7 L1217.1,1575.7 L1217.1,1579.3 L1215.9,1579.3 L1215.9,1575.5 L1214.8,1575.5 L1214.8,1581.0 L1213.6,1581.0 L1213.6,1577.5 L1212.4,1577.5 L1212.4,1581.1 L1211.3,1581.1 L1211.3,1591.1 L1210.1,1591.1 L1210.1,1580.4 L1209.0,1580.4 L1209.0,1580.7 L1207.8,1580.7 L1207.8,1579.0 L1206.7,1579.0 L1206.7,1575.1 L1205.5,1575.1 L1205.5,1598.8 L1204.4,1598.8 L1204.4,1581.1 L1203.2,1581.1 L1203.2,1603.8 L1202.1,1603.8 L1202.1,1574.3 L1200.9,1574.3 L1200.9,1590.0 L1199.8,1590.0 L1199.8,1579.0 L1198.6,1579.0 L1198.6,1574.7 L1197.5,1574.7 L1197.5,1580.3 L1196.3,1580.3 L1196.3,1585.5 L1195.2,1585.5 L1195.2,1576.7 L1194.0,1576.7 L1194.0,1578.1 L1192.9,1578.1 L1192.9,1580.9 L1191.7,1580.9 L1191.7,1611.9 L1190.6,1611.9 L1190.6,1576.7 L1189.4,1576.7 L1189.4,1576.4 L1188.3,1576.4 L1188.3,1576.8 L1187.1,1576.8 L1187.1,1577.0 L1186.0,1577.0 L1186.0,1578.6 L1184.8,1578.6 L1184.8,1574.6 L1183.7,1574.6 L1183.7,1576.1 L1182.5,1576.1 L1182.5,1582.8 L1181.4,1582.8 L1181.4,1576.8 L1180.2,1576.8 L1180.2,1574.1 L1179.1,1574.1 L1179.1,1581.2 L1177.9,1581.2 L1177.9,1576.6 L1176.8,1576.6 L1176.8,1583.3 L1175.6,1583.3 L1175.6,1573.7 L1174.5,1573.7 L1174.5,1572.8 L1173.3,1572.8 L1173.3,1575.4 L1172.2,1575.4 L1172.2,1572.2 L1171.0,1572.2 L1171.0,1572.3 L1169.9,1572.3 L1169.9,1580.2 L1168.7,1580.2 L1168.7,1569.9 L1167.6,1569.9 L1167.6,1574.7 L1166.4,1574.7 L1166.4,1569.6 L1165.3,1569.6 L1165.3,1571.7 L1164.1,1571.7 L1164.1,1573.4 L1163.0,1573.4 L1163.0,1576.8 L1161.8,1576.8 L1161.8,1577.9 L1160.7,1577.9 L1160.7,1574.1 L1159.5,1574.1 L1159.5,1580.5 L1158.4,1580.5 L1158.4,1567.9 L1157.2,1567.9 L1157.2,1567.4 L1156.1,1567.4 L1156.1,1568.7 L1154.9,1568.7 L1154.9,1567.7 L1153.8,1567.7 L1153.8,1573.1 L1152.6,1573.1 L1152.6,1572.7 L1151.5,1572.7 L1151.5,1573.1 L1150.3,1573.1 L1150.3,1566.7 L1149.2,1566.7 L1149.2,1570.9 L1148.0,1570.9 L1148.0,1570.2 L1146.9,1570.2 L1146.9,1565.1 L1145.7,1565.1 L1145.7,1571.1 L1144.6,1571.1 L1144.6,1565.9 L1143.4,1565.9 L1143.4,1568.9 L1142.3,1568.9 L1142.3,1572.3 L1141.1,1572.3 L1141.1,1575.4 L1140.0,1575.4 L1140.0,1568.8 L1138.8,1568.8 L1138.8,1563.5 L1137.7,1563.5 L1137.7,1577.9 L1136.5,1577.9 L1136.5,1570.0 L1135.4,1570.0 L1135.4,1565.4 L1134.2,1565.4 L1134.2,1570.2 L1133.1,1570.2 L1133.1,1588.1 L1131.9,1588.1 L1131.9,1571.8 L1130.8,1571.8 L1130.8,1559.4 L1129.6,1559.4 L1129.6,1561.3 L1128.5,1561.3 L1128.5,1558.1 L1127.3,1558.1 L1127.3,1565.7 L1126.2,1565.7 L1126.2,1560.0 L1125.0,1560.0 L1125.0,1560.3 L1123.9,1560.3 L1123.9,1562.5 L1122.7,1562.5 L1122.7,1557.6 L1121.6,1557.6 L1121.6,1568.3 L1120.4,1568.3 L1120.4,1554.1 L1119.3,1554.1 L1119.3,1569.6 L1118.1,1569.6 L1118.1,1548.8 L1117.0,1548.8 L1117.0,1554.7 L1115.8,1554.7 L1115.8,1550.3 L1114.7,1550.3 L1114.7,1550.5 L1113.5,1550.5 L1113.5,1547.3 L1112.4,1547.3 L1112.4,1539.2 L1111.2,1539.2 L1111.2,1535.3 L1110.1,1535.3 L1110.1,1534.9 L1108.9,1534.9 L1108.9,1542.7 L1107.8,1542.7 L1107.8,1547.8 L1106.6,1547.8 L1106.6,1531.9 L1105.5,1531.9 L1105.5,1531.7 L1104.3,1531.7 L1104.3,1523.7 L1103.2,1523.7 L1103.2,1527.6 L1102.0,1527.6 L1102.0,1509.2 L1100.9,1509.2 L1100.9,1504.8 L1099.7,1504.8 L1099.7,1498.3 L1098.6,1498.3 L1098.6,1508.5 L1097.4,1508.5 L1097.4,1491.5 L1096.3,1491.5 L1096.3,1485.2 L1095.1,1485.2 L1095.1,1481.5 L1094.0,1481.5 L1094.0,1479.6 L1092.8,1479.6 L1092.8,1487.9 L1091.7,1487.9 L1091.7,1473.1 L1090.5,1473.1 L1090.5,1465.7 L1089.4,1465.7 L1089.4,1475.2 L1088.2,1475.2 L1088.2,1469.7 L1087.1,1469.7 L1087.1,1477.1 L1085.9,1477.1 L1085.9,1454.0 L1084.8,1454.0 L1084.8,1450.6 L1083.6,1450.6 L1083.6,1450.1 L1082.5,1450.1 L1082.5,1445.6 L1081.3,1445.6 L1081.3,1440.3 L1080.2,1440.3 L1080.2,1436.4 L1079.0,1436.4 L1079.0,1424.9 L1077.9,1424.9 L1077.9,1421.3 L1076.7,1421.3 L1076.7,1419.6 L1075.6,1419.6 L1075.6,1413.1 L1074.4,1413.1 L1074.4,1407.9 L1073.3,1407.9 L1073.3,1402.9 L1072.1,1402.9 L1072.1,1399.7 L1071.0,1399.7 L1071.0,1403.1 L1069.8,1403.1 L1069.8,1412.6 L1068.7,1412.6 L1068.7,1401.8 L1067.5,1401.8 L1067.5,1391.0 L1066.4,1391.0 L1066.4,1387.8 L1065.2,1387.8 L1065.2,1387.4 L1064.1,1387.4 L1064.1,1386.0 L1062.9,1386.0 L1062.9,1382.1 L1061.8,1382.1 L1061.8,1381.2 L1060.6,1381.2 L1060.6,1388.1 L1059.5,1388.1 L1059.5,1382.1 L1058.3,1382.1 L1058.3,1385.0 L1057.2,1385.0 L1057.2,1380.3 L1056.0,1380.3 L1056.0,1386.4 L1054.9,1386.4 L1054.9,1391.9 L1053.7,1391.9 L1053.7,1396.8 L1052.6,1396.8 L1052.6,1385.7 L1051.4,1385.7 L1051.4,1381.4 L1050.3,1381.4 L1050.3,1377.7 L1049.1,1377.7 L1049.1,1379.8 L1048.0,1379.8 L1048.0,1386.9 L1046.8,1386.9 L1046.8,1378.8 L1045.7,1378.8 L1045.7,1379.5 L1044.5,1379.5 L1044.5,1383.8 L1043.4,1383.8 L1043.4,1387.4 L1042.2,1387.4 L1042.2,1379.8 L1041.1,1379.8 L1041.1,1386.1 L1039.9,1386.1 L1039.9,1403.4 L1038.8,1403.4 L1038.8,1386.5 L1037.6,1386.5 L1037.6,1395.8 L1036.5,1395.8 L1036.5,1393.3 L1035.3,1393.3 L1035.3,1396.4 L1034.2,1396.4 L1034.2,1404.0 L1033.0,1404.0 L1033.0,1396.8 L1031.9,1396.8 L1031.9,1409.5 L1030.7,1409.5 L1030.7,1407.4 L1029.6,1407.4 L1029.6,1410.3 L1028.4,1410.3 L1028.4,1412.5 L1027.3,1412.5 L1027.3,1411.8 L1026.1,1411.8 L1026.1,1413.7 L1025.0,1413.7 L1025.0,1418.3 L1023.8,1418.3 L1023.8,1424.2 L1022.7,1424.2 L1022.7,1427.2 L1021.5,1427.2 L1021.5,1424.3 L1020.4,1424.3 L1020.4,1428.4 L1019.2,1428.4 L1019.2,1453.1 L1018.1,1453.1 L1018.1,1431.8 L1016.9,1431.8 L1016.9,1440.2 L1015.8,1440.2 L1015.8,1433.9 L1014.6,1433.9 L1014.6,1443.0 L1013.5,1443.0 L1013.5,1448.7 L1012.3,1448.7 L1012.3,1441.0 L1011.2,1441.0 L1011.2,1476.5 L1010.0,1476.5 L1010.0,1456.1 L1008.9,1456.1 L1008.9,1456.0 L1007.7,1456.0 L1007.7,1453.7 L1006.6,1453.7 L1006.6,1456.3 L1005.4,1456.3 L1005.4,1451.0 L1004.3,1451.0 L1004.3,1454.5 L1003.1,1454.5 L1003.1,1456.0 L1002.0,1456.0 L1002.0,1464.2 L1000.8,1464.2 L1000.8,1460.9 L999.7,1460.9 L999.7,1464.6 L998.5,1464.6 L998.5,1462.1 L997.4,1462.1 L997.4,1472.4 L996.2,1472.4 L996.2,1464.9 L995.1,1464.9 L995.1,1475.6 L993.9,1475.6 L993.9,1470.1 L992.8,1470.1 L992.8,1473.2 L991.6,1473.2 L991.6,1475.7 L990.5,1475.7 L990.5,1471.9 L989.3,1471.9 L989.3,1477.7 L988.2,1477.7 L988.2,1483.5 L987.0,1483.5 L987.0,1477.3 L985.9,1477.3 L985.9,1492.0 L984.7,1492.0 L984.7,1484.9 L983.6,1484.9 L983.6,1480.8 L982.4,1480.8 L982.4,1481.6 L981.3,1481.6 L981.3,1487.1 L980.1,1487.1 L980.1,1492.2 L979.0,1492.2 L979.0,1494.7 L977.8,1494.7 L977.8,1490.1 L976.7,1490.1 L976.7,1499.5 L975.5,1499.5 L975.5,1485.1 L974.4,1485.1 L974.4,1484.4 L973.2,1484.4 L973.2,1496.0 L972.1,1496.0 L972.1,1487.5 L970.9,1487.5 L970.9,1493.2 L969.8,1493.2 L969.8,1490.8 L968.6,1490.8 L968.6,1498.9 L967.5,1498.9 L967.5,1497.6 L966.3,1497.6 L966.3,1489.8 L965.2,1489.8 L965.2,1492.8 L964.0,1492.8 L964.0,1493.7 L962.9,1493.7 L962.9,1496.7 L961.7,1496.7 L961.7,1490.2 L960.6,1490.2 L960.6,1490.1 L959.4,1490.1 L959.4,1500.5 L958.3,1500.5 L958.3,1491.6 L957.1,1491.6 L957.1,1493.2 L956.0,1493.2 L956.0,1495.6 L954.8,1495.6 L954.8,1496.8 L953.7,1496.8 L953.7,1496.2 L952.5,1496.2 L952.5,1500.6 L951.4,1500.6 L951.4,1496.0 L950.2,1496.0 L950.2,1499.5 L949.1,1499.5 L949.1,1498.0 L947.9,1498.0 L947.9,1497.2 L946.8,1497.2 L946.8,1497.1 L945.6,1497.1 L945.6,1509.3 L944.5,1509.3 L944.5,1503.6 L943.3,1503.6 L943.3,1500.5 L942.2,1500.5 L942.2,1511.8 L941.0,1511.8 L941.0,1499.9 L939.9,1499.9 L939.9,1512.5 L938.7,1512.5 L938.7,1501.2 L937.6,1501.2 L937.6,1507.3 L936.4,1507.3 L936.4,1507.2 L935.3,1507.2 L935.3,1522.7 L934.1,1522.7 L934.1,1511.7 L933.0,1511.7 L933.0,1508.3 L931.8,1508.3 L931.8,1501.5 L930.7,1501.5 L930.7,1504.8 L929.5,1504.8 L929.5,1525.6 L928.4,1525.6 L928.4,1504.8 L927.2,1504.8 L927.2,1507.4 L926.1,1507.4 L926.1,1508.5 L924.9,1508.5 L924.9,1507.4 L923.8,1507.4 L923.8,1510.6 L922.6,1510.6 L922.6,1512.6 L921.5,1512.6 L921.5,1506.7 L920.3,1506.7 L920.3,1510.7 L919.2,1510.7 L919.2,1518.6 L918.0,1518.6 L918.0,1507.7 L916.9,1507.7 L916.9,1518.8 L915.7,1518.8 L915.7,1508.4 L914.6,1508.4 L914.6,1510.1 L913.4,1510.1 L913.4,1512.0 L912.3,1512.0 L912.3,1506.4 L911.1,1506.4 L911.1,1520.6 L910.0,1520.6 L910.0,1511.1 L908.8,1511.1 L908.8,1510.6 L907.7,1510.6 L907.7,1517.6 L906.5,1517.6 L906.5,1509.6 L905.4,1509.6 L905.4,1512.5 L904.2,1512.5 L904.2,1509.6 L903.1,1509.6 L903.1,1509.7 L901.9,1509.7 L901.9,1512.4 L900.8,1512.4 L900.8,1510.1 L899.6,1510.1 L899.6,1514.5 L898.5,1514.5 L898.5,1509.7 L897.3,1509.7 L897.3,1515.6 L896.2,1515.6 L896.2,1516.2 L895.0,1516.2 L895.0,1521.2 L893.9,1521.2 L893.9,1515.7 L892.7,1515.7 L892.7,1513.9 L891.6,1513.9 L891.6,1515.9 L890.4,1515.9 L890.4,1517.6 L889.3,1517.6 L889.3,1530.7 L888.1,1530.7 L888.1,1513.8 L887.0,1513.8 L887.0,1514.3 L885.8,1514.3 L885.8,1516.6 L884.7,1516.6 L884.7,1511.5 L883.5,1511.5 L883.5,1520.4 L882.4,1520.4 L882.4,1523.1 L881.2,1523.1 L881.2,1513.5 L880.1,1513.5 L880.1,1519.8 L878.9,1519.8 L878.9,1512.6 L877.8,1512.6 L877.8,1517.4 L876.6,1517.4 L876.6,1519.6 L875.5,1519.6 L875.5,1514.1 L874.3,1514.1 L874.3,1514.9 L873.2,1514.9 L873.2,1516.3 L872.0,1516.3 L872.0,1519.6 L870.9,1519.6 L870.9,1516.7 L869.7,1516.7 L869.7,1527.9 L868.6,1527.9 L868.6,1519.6 L867.4,1519.6 L867.4,1519.2 L866.3,1519.2 L866.3,1516.2 L865.1,1516.2 L865.1,1529.9 L864.0,1529.9 L864.0,1525.4 L862.8,1525.4 L862.8,1514.6 L861.7,1514.6 L861.7,1519.3 L860.5,1519.3 L860.5,1528.4 L859.4,1528.4 L859.4,1519.9 L858.2,1519.9 L858.2,1516.2 L857.1,1516.2 L857.1,1529.7 L855.9,1529.7 L855.9,1514.3 L854.8,1514.3 L854.8,1514.8 L853.6,1514.8 L853.6,1526.7 L852.5,1526.7 L852.5,1527.8 L851.3,1527.8 L851.3,1525.2 L850.2,1525.2 L850.2,1521.0 L849.0,1521.0 L849.0,1518.8 L847.9,1518.8 L847.9,1518.4 L846.7,1518.4 L846.7,1518.1 L845.6,1518.1 L845.6,1538.9 L844.4,1538.9 L844.4,1520.5 L843.3,1520.5 L843.3,1523.3 L842.1,1523.3 L842.1,1521.8 L841.0,1521.8 L841.0,1518.9 L839.8,1518.9 L839.8,1521.4 L838.7,1521.4 L838.7,1521.8 L837.5,1521.8 L837.5,1524.3 L836.4,1524.3 L836.4,1517.3 L835.2,1517.3 L835.2,1518.8 L834.1,1518.8 L834.1,1526.9 L832.9,1526.9 L832.9,1516.9 L831.8,1516.9 L831.8,1520.4 L830.6,1520.4 L830.6,1520.3 L829.5,1520.3 L829.5,1544.7 L828.3,1544.7 L828.3,1517.6 L827.2,1517.6 L827.2,1518.7 L826.0,1518.7 L826.0,1528.5 L824.9,1528.5 L824.9,1519.4 L823.7,1519.4 L823.7,1528.7 L822.6,1528.7 L822.6,1523.4 L821.4,1523.4 L821.4,1521.6 L820.3,1521.6 L820.3,1522.7 L819.1,1522.7 L819.1,1531.2 L818.0,1531.2 L818.0,1522.8 L816.8,1522.8 L816.8,1516.9 L815.7,1516.9 L815.7,1514.9 L814.5,1514.9 L814.5,1523.9 L813.4,1523.9 L813.4,1519.1 L812.2,1519.1 L812.2,1519.6 L811.1,1519.6 L811.1,1529.4 L809.9,1529.4 L809.9,1515.8 L808.8,1515.8 L808.8,1520.8 L807.6,1520.8 L807.6,1520.8 L806.5,1520.8 L806.5,1526.1 L805.3,1526.1 L805.3,1523.5 L804.2,1523.5 L804.2,1515.1 L803.0,1515.1 L803.0,1518.3 L801.9,1518.3 L801.9,1519.3 L800.7,1519.3 L800.7,1514.8 L799.6,1514.8 L799.6,1521.4 L798.4,1521.4 L798.4,1532.4 L797.3,1532.4 L797.3,1534.9 L796.1,1534.9 L796.1,1519.6 L795.0,1519.6 L795.0,1515.7 L793.8,1515.7 L793.8,1526.2 L792.7,1526.2 L792.7,1516.5 L791.5,1516.5 L791.5,1521.8 L790.4,1521.8 L790.4,1528.7 L789.2,1528.7 L789.2,1528.1 L788.1,1528.1 L788.1,1523.4 L786.9,1523.4 L786.9,1530.7 L785.8,1530.7 L785.8,1512.9 L784.6,1512.9 L784.6,1517.8 L783.5,1517.8 L783.5,1527.4 L782.3,1527.4 L782.3,1517.7 L781.2,1517.7 L781.2,1519.7 L780.0,1519.7 L780.0,1521.3 L778.9,1521.3 L778.9,1521.2 L777.7,1521.2 L777.7,1513.4 L776.6,1513.4 L776.6,1521.7 L775.4,1521.7 L775.4,1523.5 L774.3,1523.5 L774.3,1515.0 L773.1,1515.0 L773.1,1512.0 L772.0,1512.0 L772.0,1511.2 L770.8,1511.2 L770.8,1514.9 L769.7,1514.9 L769.7,1516.4 L768.5,1516.4 L768.5,1511.7 L767.4,1511.7 L767.4,1522.3 L766.2,1522.3 L766.2,1530.5 L765.1,1530.5 L765.1,1511.8 L763.9,1511.8 L763.9,1510.9 L762.8,1510.9 L762.8,1524.7 L761.6,1524.7 L761.6,1522.8 L760.5,1522.8 L760.5,1510.2 L759.3,1510.2 L759.3,1514.0 L758.2,1514.0 L758.2,1520.4 L757.0,1520.4 L757.0,1542.2 L755.9,1542.2 L755.9,1515.3 L754.7,1515.3 L754.7,1513.5 L753.6,1513.5 L753.6,1506.3 L752.4,1506.3 L752.4,1510.1 L751.3,1510.1 L751.3,1505.1 L750.1,1505.1 L750.1,1518.1 L749.0,1518.1 L749.0,1515.0 L747.8,1515.0 L747.8,1504.7 L746.7,1504.7 L746.7,1510.6 L745.5,1510.6 L745.5,1509.3 L744.4,1509.3 L744.4,1514.3 L743.2,1514.3 L743.2,1507.6 L742.1,1507.6 L742.1,1512.0 L740.9,1512.0 L740.9,1501.2 L739.8,1501.2 L739.8,1509.2 L738.6,1509.2 L738.6,1511.5 L737.5,1511.5 L737.5,1511.0 L736.3,1511.0 L736.3,1494.8 L735.2,1494.8 L735.2,1503.9 L734.0,1503.9 L734.0,1499.9 L732.9,1499.9 L732.9,1493.8 L731.7,1493.8 L731.7,1504.9 L730.6,1504.9 L730.6,1492.2 L729.4,1492.2 L729.4,1497.6 L728.3,1497.6 L728.3,1495.9 L727.1,1495.9 L727.1,1490.4 L726.0,1490.4 L726.0,1484.9 L724.8,1484.9 L724.8,1495.4 L723.7,1495.4 L723.7,1483.2 L722.5,1483.2 L722.5,1518.7 L721.4,1518.7 L721.4,1488.7 L720.2,1488.7 L720.2,1493.7 L719.1,1493.7 L719.1,1482.3 L717.9,1482.3 L717.9,1477.2 L716.8,1477.2 L716.8,1489.4 L715.6,1489.4 L715.6,1475.1 L714.5,1475.1 L714.5,1474.9 L713.3,1474.9 L713.3,1482.3 L712.2,1482.3 L712.2,1475.3 L711.0,1475.3 L711.0,1471.0 L709.9,1471.0 L709.9,1483.7 L708.7,1483.7 L708.7,1476.2 L707.6,1476.2 L707.6,1480.1 L706.4,1480.1 L706.4,1484.3 L705.3,1484.3 L705.3,1476.9 L704.1,1476.9 L704.1,1470.7 L703.0,1470.7 L703.0,1472.8 L701.8,1472.8 L701.8,1476.8 L700.7,1476.8 L700.7,1465.0 L699.5,1465.0 L699.5,1471.3 L698.4,1471.3 L698.4,1475.2 L697.2,1475.2 L697.2,1470.9 L696.1,1470.9 L696.1,1465.8 L694.9,1465.8 L694.9,1472.3 L693.8,1472.3 L693.8,1470.1 L692.6,1470.1 L692.6,1467.8 L691.5,1467.8 L691.5,1479.5 L690.3,1479.5 L690.3,1467.5 L689.2,1467.5 L689.2,1486.3 L688.0,1486.3 L688.0,1468.8 L686.9,1468.8 L686.9,1468.0 L685.7,1468.0 L685.7,1480.8 L684.6,1480.8 L684.6,1468.7 L683.4,1468.7 L683.4,1469.0 L682.3,1469.0 L682.3,1469.1 L681.1,1469.1 L681.1,1471.6 L680.0,1471.6 L680.0,1472.6 L678.8,1472.6 L678.8,1485.4 L677.7,1485.4 L677.7,1479.9 L676.5,1479.9 L676.5,1479.7 L675.4,1479.7 L675.4,1485.9 L674.2,1485.9 L674.2,1477.7 L673.1,1477.7 L673.1,1474.2 L671.9,1474.2 L671.9,1481.6 L670.8,1481.6 L670.8,1481.1 L669.6,1481.1 L669.6,1479.8 L668.5,1479.8 L668.5,1481.3 L667.3,1481.3 L667.3,1478.3 L666.2,1478.3 L666.2,1481.7 L665.0,1481.7 L665.0,1478.4 L663.9,1478.4 L663.9,1491.2 L662.7,1491.2 L662.7,1498.8 L661.6,1498.8 L661.6,1489.6 L660.4,1489.6 L660.4,1483.3 L659.3,1483.3 L659.3,1484.1 L658.1,1484.1 L658.1,1486.3 L657.0,1486.3 L657.0,1482.8 L655.8,1482.8 L655.8,1485.0 L654.7,1485.0 L654.7,1492.1 L653.5,1492.1 L653.5,1494.8 L652.4,1494.8 L652.4,1485.9 L651.2,1485.9 L651.2,1491.9 L650.1,1491.9 L650.1,1498.1 L648.9,1498.1 L648.9,1488.1 L647.8,1488.1 L647.8,1497.7 L646.6,1497.7 L646.6,1493.0 L645.5,1493.0 L645.5,1491.9 L644.3,1491.9 L644.3,1492.5 L643.2,1492.5 L643.2,1494.6 L642.0,1494.6 L642.0,1500.1 L640.9,1500.1 L640.9,1490.6 L639.7,1490.6 L639.7,1492.5 L638.6,1492.5 L638.6,1496.4 L637.4,1496.4 L637.4,1496.8 L636.3,1496.8 L636.3,1489.4 L635.1,1489.4 L635.1,1498.9 L634.0,1498.9 L634.0,1489.7 L632.8,1489.7 L632.8,1500.6 L631.7,1500.6 L631.7,1493.0 L630.5,1493.0 L630.5,1495.7 L629.4,1495.7 L629.4,1503.4 L628.2,1503.4 L628.2,1492.7 L627.1,1492.7 L627.1,1499.3 L625.9,1499.3 L625.9,1500.2 L624.8,1500.2 L624.8,1494.9 L623.6,1494.9 L623.6,1491.9 L622.5,1491.9 L622.5,1500.8 L621.3,1500.8 L621.3,1495.5 L620.2,1495.5 L620.2,1497.8 L619.0,1497.8 L619.0,1495.1 L617.9,1495.1 L617.9,1496.7 L616.7,1496.7 L616.7,1498.9 L615.6,1498.9 L615.6,1509.2 L614.4,1509.2 L614.4,1498.8 L613.3,1498.8 L613.3,1490.6 L612.1,1490.6 L612.1,1490.5 L611.0,1490.5 L611.0,1493.2 L609.8,1493.2 L609.8,1500.9 L608.7,1500.9 L608.7,1492.4 L607.5,1492.4 L607.5,1493.0 L606.4,1493.0 L606.4,1503.4 L605.2,1503.4 L605.2,1498.7 L604.1,1498.7 L604.1,1493.4 L602.9,1493.4 L602.9,1502.5 L601.8,1502.5 L601.8,1492.8 L600.6,1492.8 L600.6,1501.4 L599.5,1501.4 L599.5,1506.9 L598.3,1506.9 L598.3,1496.1 L597.2,1496.1 L597.2,1502.5 L596.0,1502.5 L596.0,1502.7 L594.9,1502.7 L594.9,1493.6 L593.7,1493.6 L593.7,1503.1 L592.6,1503.1 L592.6,1497.3 L591.4,1497.3 L591.4,1495.4 L590.3,1495.4 L590.3,1501.7 L589.1,1501.7 L589.1,1497.7 L588.0,1497.7 L588.0,1512.2 L586.8,1512.2 L586.8,1494.0 L585.7,1494.0 L585.7,1504.6 L584.5,1504.6 L584.5,1496.2 L583.4,1496.2 L583.4,1508.0 L582.2,1508.0 L582.2,1495.7 L581.1,1495.7 L581.1,1502.3 L579.9,1502.3 L579.9,1494.2 L578.8,1494.2 L578.8,1498.6 L577.6,1498.6 L577.6,1498.2 L576.5,1498.2 L576.5,1504.0 L575.3,1504.0 L575.3,1494.4 L574.2,1494.4 L574.2,1496.8 L573.0,1496.8 L573.0,1510.8 L571.9,1510.8 L571.9,1500.3 L570.7,1500.3 L570.7,1494.2 L569.6,1494.2 L569.6,1503.3 L568.4,1503.3 L568.4,1497.6 L567.3,1497.6 L567.3,1499.2 L566.1,1499.2 L566.1,1503.1 L565.0,1503.1 L565.0,1492.5 L563.8,1492.5 L563.8,1503.6 L562.7,1503.6 L562.7,1497.4 L561.5,1497.4 L561.5,1491.8 L560.4,1491.8 L560.4,1508.7 L559.2,1508.7 L559.2,1493.1 L558.1,1493.1 L558.1,1500.8 L556.9,1500.8 L556.9,1496.0 L555.8,1496.0 L555.8,1505.1 L554.6,1505.1 L554.6,1496.7 L553.5,1496.7 L553.5,1495.7 L552.3,1495.7 L552.3,1504.3 L551.2,1504.3 L551.2,1489.9 L550.0,1489.9 L550.0,1494.6 L548.9,1494.6 L548.9,1492.5 L547.7,1492.5 L547.7,1492.9 L546.6,1492.9 L546.6,1506.0 L545.4,1506.0 L545.4,1488.9 L544.3,1488.9 L544.3,1502.4 L543.1,1502.4 L543.1,1488.9 L542.0,1488.9 L542.0,1487.7 L540.8,1487.7 L540.8,1489.9 L539.7,1489.9 L539.7,1499.6 L538.5,1499.6 L538.5,1487.8 L537.4,1487.8 L537.4,1500.9 L536.2,1500.9 L536.2,1488.6 L535.1,1488.6 L535.1,1492.2 L533.9,1492.2 L533.9,1491.7 L532.8,1491.7 L532.8,1490.1 L531.6,1490.1 L531.6,1495.6 L530.5,1495.6 L530.5,1490.7 L529.3,1490.7 L529.3,1494.3 L528.2,1494.3 L528.2,1495.0 L527.0,1495.0 L527.0,1490.4 L525.9,1490.4 L525.9,1489.6 L524.7,1489.6 L524.7,1502.9 L523.6,1502.9 L523.6,1505.5 L522.4,1505.5 L522.4,1488.1 L521.3,1488.1 L521.3,1492.5 L520.1,1492.5 L520.1,1499.0 L519.0,1499.0 L519.0,1486.5 L517.8,1486.5 L517.8,1492.1 L516.7,1492.1 L516.7,1490.5 L515.5,1490.5 L515.5,1505.3 L514.4,1505.3 L514.4,1494.4 L513.2,1494.4 L513.2,1488.3 L512.1,1488.3 L512.1,1487.3 L510.9,1487.3 L510.9,1485.9 L509.8,1485.9 L509.8,1489.4 L508.6,1489.4 L508.6,1484.8 L507.5,1484.8 L507.5,1495.0 L506.3,1495.0 L506.3,1491.7 L505.2,1491.7 L505.2,1485.4 L504.0,1485.4 L504.0,1490.5 L502.9,1490.5 L502.9,1485.7 L501.7,1485.7 L501.7,1485.5 L500.6,1485.5 L500.6,1486.0 L499.4,1486.0 L499.4,1494.4 L498.3,1494.4 L498.3,1498.5 L497.1,1498.5 L497.1,1496.6 L496.0,1496.6 L496.0,1488.0 L494.8,1488.0 L494.8,1487.9 L493.7,1487.9 L493.7,1497.4 L492.5,1497.4 L492.5,1489.8 L491.4,1489.8 L491.4,1486.5 L490.2,1486.5 L490.2,1496.7 L489.1,1496.7 L489.1,1482.5 L487.9,1482.5 L487.9,1505.1 L486.8,1505.1 L486.8,1486.6 L485.6,1486.6 L485.6,1491.7 L484.5,1491.7 L484.5,1481.2 L483.3,1481.2 L483.3,1482.6 L482.2,1482.6 L482.2,1487.4 L481.0,1487.4 L481.0,1491.9 L479.9,1491.9 L479.9,1483.5 L478.7,1483.5 L478.7,1480.2 L477.6,1480.2 L477.6,1494.1 L476.4,1494.1 L476.4,1477.2 L475.3,1477.2 L475.3,1493.5 L474.1,1493.5 L474.1,1492.2 L473.0,1492.2 L473.0,1478.4 L471.8,1478.4 L471.8,1487.0 L470.7,1487.0 L470.7,1476.2 L469.5,1476.2 L469.5,1475.2 L468.4,1475.2 L468.4,1481.0 L467.2,1481.0 L467.2,1506.3 L466.1,1506.3 L466.1,1501.0 L464.9,1501.0 L464.9,1475.9 L463.8,1475.9 L463.8,1511.0 L462.6,1511.0 L462.6,1488.8 L461.5,1488.8 L461.5,1471.5 L460.3,1471.5 L460.3,1484.1 L459.2,1484.1 L459.2,1471.5 L458.0,1471.5 L458.0,1482.1 L456.9,1482.1 L456.9,1476.0 L455.7,1476.0 L455.7,1498.3 L454.6,1498.3 L454.6,1467.7 L453.4,1467.7 L453.4,1476.5 L452.3,1476.5 L452.3,1472.1 L451.1,1472.1 L451.1,1473.6 L450.0,1473.6 L450.0,1475.1 L448.8,1475.1 L448.8,1465.5 L447.7,1465.5 L447.7,1467.1 L446.5,1467.1 L446.5,1479.7 L445.4,1479.7 L445.4,1463.6 L444.2,1463.6 L444.2,1464.7 L443.1,1464.7 L443.1,1462.1 L441.9,1462.1 L441.9,1472.2 L440.8,1472.2 L440.8,1457.4 L439.6,1457.4 L439.6,1458.9 L438.5,1458.9 L438.5,1467.3 L437.3,1467.3 L437.3,1460.4 L436.2,1460.4 L436.2,1453.8 L435.0,1453.8 L435.0,1455.1 L433.9,1455.1 L433.9,1456.9 L432.7,1456.9 L432.7,1458.2 L431.6,1458.2 L431.6,1453.4 L430.4,1453.4 L430.4,1451.3 L429.3,1451.3 L429.3,1449.5 L428.1,1449.5 L428.1,1452.9 L427.0,1452.9 L427.0,1453.8 L425.8,1453.8 L425.8,1460.0 L424.7,1460.0 L424.7,1448.5 L423.5,1448.5 L423.5,1468.9 L422.4,1468.9 L422.4,1447.1 L421.2,1447.1 L421.2,1456.4 L420.1,1456.4 L420.1,1456.5 L418.9,1456.5 L418.9,1447.2 L417.8,1447.2 L417.8,1448.6 L416.6,1448.6 L416.6,1453.3 L415.5,1453.3 L415.5,1442.3 L414.3,1442.3 L414.3,1440.6 L413.2,1440.6 L413.2,1433.5 L412.0,1433.5 L412.0,1437.3 L410.9,1437.3 L410.9,1430.1 L409.7,1430.1 L409.7,1459.9 L408.6,1459.9 L408.6,1434.7 L407.4,1434.7 L407.4,1431.6 L406.3,1431.6 L406.3,1440.7 L405.1,1440.7 L405.1,1438.9 L404.0,1438.9 L404.0,1420.3 L402.8,1420.3 L402.8,1416.5 L401.7,1416.5 L401.7,1419.5 L400.5,1419.5 L400.5,1413.7 L399.4,1413.7 L399.4,1424.8 L398.2,1424.8 L398.2,1409.3 L397.1,1409.3 L397.1,1406.1 L395.9,1406.1 L395.9,1423.9 L394.8,1423.9 L394.8,1402.7 L393.6,1402.7 L393.6,1400.1 L392.5,1400.1 L392.5,1408.1 L391.3,1408.1 L391.3,1411.9 L390.2,1411.9 L390.2,1400.7 L389.0,1400.7 L389.0,1391.5 L387.9,1391.5 L387.9,1396.1 L386.7,1396.1 L386.7,1386.2 L385.6,1386.2 L385.6,1398.6 L384.4,1398.6 L384.4,1386.4 L383.3,1386.4 L383.3,1381.1 L382.1,1381.1 L382.1,1395.2 L381.0,1395.2 L381.0,1382.6 L379.8,1382.6 L379.8,1376.6 L378.7,1376.6 L378.7,1375.0 L377.5,1375.0 L377.5,1375.0 L376.4,1375.0 L376.4,1379.3 L375.2,1379.3 L375.2,1372.9 L374.1,1372.9 L374.1,1377.3 L372.9,1377.3 L372.9,1374.8 L371.8,1374.8 L371.8,1375.6 L370.6,1375.6 L370.6,1372.4 L369.5,1372.4 L369.5,1369.7 L368.3,1369.7 L368.3,1377.0 L367.2,1377.0 L367.2,1369.0 L366.0,1369.0 L366.0,1369.5 L364.9,1369.5 L364.9,1369.0 L363.7,1369.0 L363.7,1360.7 L362.6,1360.7 L362.6,1363.0 L361.4,1363.0 L361.4,1363.4 L360.3,1363.4 L360.3,1359.0 L359.1,1359.0 L359.1,1359.3 L358.0,1359.3 L358.0,1356.5 L356.8,1356.5 L356.8,1361.6 L355.7,1361.6 L355.7,1361.5 L354.5,1361.5 L354.5,1354.1 L353.4,1354.1 L353.4,1366.7 L352.2,1366.7 L352.2,1360.1 L351.1,1360.1 L351.1,1355.0 L349.9,1355.0 L349.9,1372.0 L348.8,1372.0 L348.8,1357.6 L347.6,1357.6 L347.6,1353.4 L346.5,1353.4 L346.5,1365.6 L345.3,1365.6 L345.3,1357.1 L344.2,1357.1 L344.2,1355.1 L343.0,1355.1 L343.0,1363.3 L341.9,1363.3 L341.9,1359.5 L340.7,1359.5 L340.7,1354.1 L339.6,1354.1 L339.6,1354.6 L338.4,1354.6 L338.4,1355.6 L337.3,1355.6 L337.3,1364.1 L336.1,1364.1 L336.1,1351.7 L335.0,1351.7 L335.0,1355.1 L333.8,1355.1 L333.8,1354.4 L332.7,1354.4 L332.7,1356.1 L331.5,1356.1 L331.5,1354.8 L330.4,1354.8 L330.4,1360.6 L329.2,1360.6 L329.2,1351.3 L328.1,1351.3 L328.1,1351.6 L326.9,1351.6 L326.9,1360.3 L325.8,1360.3 L325.8,1359.1 L324.6,1359.1 L324.6,1360.8 L323.5,1360.8 L323.5,1359.7 L322.3,1359.7 L322.3,1360.0 L321.2,1360.0 L321.2,1356.1 L320.0,1356.1 L320.0,1372.2 L318.9,1372.2 L318.9,1366.6 L317.7,1366.6 L317.7,1358.2 L316.6,1358.2 L316.6,1366.3 L315.4,1366.3 L315.4,1367.4 L314.3,1367.4 L314.3,1363.9 L313.1,1363.9 L313.1,1360.4 L312.0,1360.4 L312.0,1361.8 L310.8,1361.8 L310.8,1358.7 L309.7,1358.7 L309.7,1355.1 L308.5,1355.1 L308.5,1354.6 L307.4,1354.6 L307.4,1352.6 L306.2,1352.6 L306.2,1370.7 L305.1,1370.7 L305.1,1361.2 L303.9,1361.2 L303.9,1353.5 L302.8,1353.5 L302.8,1359.0 L301.6,1359.0 L301.6,1354.9 L300.5,1354.9 L300.5,1344.3 L299.3,1344.3 L299.3,1344.9 L298.2,1344.9 L298.2,1345.6 L297.0,1345.6 L297.0,1340.6 L295.9,1340.6 L295.9,1340.1 L294.7,1340.1 L294.7,1338.5 L293.6,1338.5 L293.6,1338.6 L292.4,1338.6 L292.4,1334.8 L291.3,1334.8 L291.3,1332.2 L290.1,1332.2 L290.1,1334.6 L289.0,1334.6 L289.0,1336.2 L287.8,1336.2 L287.8,1332.9 L286.7,1332.9 L286.7,1332.3 L285.5,1332.3 L285.5,1326.2 L284.4,1326.2 L284.4,1326.2 L283.2,1326.2 L283.2,1331.8 L282.1,1331.8 L282.1,1331.3 L280.9,1331.3 L280.9,1318.9 L279.8,1318.9 L279.8,1317.0 L278.6,1317.0 L278.6,1314.1 L277.5,1314.1 L277.5,1316.3 L276.3,1316.3 L276.3,1326.2 L275.2,1326.2 L275.2,1305.1 L274.0,1305.1 L274.0,1303.9 L272.9,1303.9 L272.9,1300.4 L271.7,1300.4 L271.7,1293.5 L270.6,1293.5 L270.6,1291.4 L269.4,1291.4 L269.4,1285.8 L268.3,1285.8 L268.3,1282.9 L267.1,1282.9 L267.1,1271.8 L266.0,1271.8 L266.0,1268.9 L264.8,1268.9 L264.8,1258.6 L263.7,1258.6 L263.7,1253.8 L262.5,1253.8 L262.5,1242.2 L261.4,1242.2 L261.4,1231.8 L260.2,1231.8 L260.2,1224.1 L259.1,1224.1 L259.1,1209.6 L257.9,1209.6 L257.9,1186.1 L256.8,1186.1 L256.8,1154.6 L255.7,1154.6 L255.7,1135.5 L254.5,1135.5Z" fill="#000" stroke="#000" stroke-width="0.6"/>
<path d="M254.0,2049.8 C261.7,2049.7 283.2,2049.5 300.0,2049.3 C316.8,2049.1 334.2,2048.5 355.0,2048.7 C375.8,2048.9 399.3,2050.0 425.0,2050.6 C450.7,2051.2 482.7,2052.2 509.0,2052.2 C535.3,2052.2 558.5,2051.6 583.0,2050.8 C607.5,2050.0 635.6,2048.5 656.0,2047.3 C676.4,2046.1 688.2,2044.8 705.5,2043.4 C722.8,2042.0 744.6,2040.6 760.0,2038.8 C775.4,2037.0 788.3,2034.3 797.7,2032.4 C807.1,2030.5 810.3,2029.4 816.6,2027.6 C822.9,2025.8 829.2,2023.8 835.5,2021.5 C841.8,2019.2 848.0,2017.2 854.3,2014.0 C860.6,2010.8 867.6,2006.6 873.2,2002.6 C878.8,1998.6 881.6,1997.1 888.0,1990.0 C894.4,1982.9 904.5,1970.0 911.3,1960.0 C918.0,1950.0 921.7,1943.8 928.5,1930.0 C935.3,1916.2 945.9,1893.1 952.0,1876.9 C958.1,1860.7 961.1,1847.5 965.2,1832.7 C969.3,1818.0 973.0,1803.2 976.8,1788.4 C980.6,1773.7 984.4,1758.8 987.9,1744.2 C991.4,1729.6 995.2,1712.7 998.0,1701.0 C1000.8,1689.3 1002.4,1681.8 1004.5,1674.0 C1006.6,1666.2 1008.5,1660.3 1010.5,1654.0 C1012.5,1647.7 1014.4,1640.7 1016.5,1636.0 C1018.6,1631.3 1020.8,1628.3 1023.0,1626.0 C1025.2,1623.7 1027.4,1621.9 1029.5,1622.0 C1031.6,1622.1 1033.8,1624.3 1035.5,1626.5 C1037.2,1628.7 1038.0,1630.4 1039.5,1635.0 C1041.0,1639.6 1043.0,1647.5 1044.7,1654.0 C1046.4,1660.5 1047.8,1666.3 1049.6,1674.0 C1051.4,1681.7 1052.7,1686.5 1055.5,1700.0 C1058.3,1713.5 1063.0,1736.9 1066.2,1755.3 C1069.4,1773.7 1071.9,1792.2 1074.5,1810.6 C1077.1,1829.0 1079.5,1847.5 1081.7,1865.9 C1083.9,1884.3 1085.9,1905.5 1087.8,1921.2 C1089.7,1936.9 1092.0,1951.2 1093.3,1960.0 C1094.6,1968.8 1095.0,1968.5 1095.8,1974.3 C1096.6,1980.0 1097.2,1987.8 1098.2,1994.5 C1099.2,2001.2 1100.4,2008.6 1101.5,2014.7 C1102.6,2020.8 1103.5,2025.7 1104.7,2030.9 C1106.0,2036.1 1107.3,2042.1 1109.0,2046.0 C1110.7,2049.9 1112.5,2052.7 1115.0,2054.5 C1117.5,2056.3 1119.8,2056.5 1124.0,2057.0 C1128.2,2057.5 1134.0,2057.4 1140.0,2057.6 C1146.0,2057.8 1117.8,2057.9 1160.0,2058.3 C1202.2,2058.7 1354.2,2059.6 1393.0,2059.9" fill="none" stroke="#000" stroke-width="7" stroke-linejoin="round" stroke-linecap="round"/>
<path d="M254.0,120.0 C256.3,120.0 263.2,120.2 268.0,120.3 C272.8,120.4 277.3,120.1 283.0,120.8 C288.7,121.5 296.5,123.2 302.0,124.5 C307.5,125.8 311.3,126.7 316.0,128.3 C320.7,129.9 325.3,132.3 330.0,134.0 C334.7,135.7 339.2,137.0 344.0,138.7 C348.8,140.4 353.7,142.4 358.5,144.0 C363.3,145.6 367.4,146.6 372.6,148.0 C377.9,149.4 383.4,150.5 390.0,152.5 C396.6,154.5 403.2,157.7 412.3,160.0 C421.4,162.3 433.9,164.9 444.7,166.5 C455.5,168.1 466.2,168.8 477.0,169.6 C487.8,170.4 498.6,170.7 509.4,171.2 C520.2,171.7 530.9,172.3 541.7,172.6 C552.5,172.9 563.2,172.9 574.0,172.9 C584.8,172.9 598.7,172.6 606.4,172.7 C614.1,172.8 611.5,172.8 620.0,173.2 C628.5,173.6 645.1,174.5 657.7,175.1 C670.3,175.7 682.9,176.2 695.5,177.0 C708.1,177.8 720.6,178.8 733.2,179.6 C745.8,180.4 759.0,180.9 771.0,181.9 C783.0,182.9 794.0,183.9 805.0,185.5 C816.0,187.1 827.0,189.6 837.0,191.5 C847.0,193.4 857.5,195.1 865.3,196.8 C873.1,198.6 878.2,199.4 884.0,202.0 C889.8,204.6 895.7,208.8 900.0,212.5 C904.3,216.2 907.0,220.4 910.0,224.0 C913.0,227.6 914.3,229.5 918.0,234.0 C921.7,238.5 927.3,244.3 932.0,251.0 C936.7,257.7 942.4,267.3 946.0,274.0 C949.6,280.7 951.9,286.7 953.5,291.0 C955.1,295.3 953.9,293.5 955.7,300.0 C957.5,306.5 961.7,320.0 964.5,330.0 C967.3,340.0 969.8,350.0 972.3,360.0 C974.8,370.0 977.0,380.0 979.2,390.0 C981.4,400.0 983.4,410.0 985.4,420.0 C987.4,430.0 989.3,440.0 991.1,450.0 C992.9,460.0 994.5,470.0 996.1,480.0 C997.7,490.0 999.3,500.0 1000.8,510.0 C1002.3,520.0 1003.7,530.0 1005.1,540.0 C1006.5,550.0 1007.9,560.0 1009.2,570.0 C1010.5,580.0 1011.7,590.0 1013.0,600.0 C1014.3,610.0 1015.5,620.0 1016.8,630.0 C1018.1,640.0 1019.3,650.0 1020.6,660.0 C1021.9,670.0 1023.1,680.0 1024.4,690.0 C1025.7,700.0 1027.0,710.0 1028.3,720.0 C1029.6,730.0 1031.0,740.0 1032.4,750.0 C1033.8,760.0 1035.2,770.0 1036.7,780.0 C1038.2,790.0 1039.6,800.0 1041.2,810.0 C1042.8,820.0 1044.4,830.0 1046.1,840.0 C1047.8,850.0 1049.5,860.0 1051.3,870.0 C1053.1,880.0 1055.0,890.0 1056.9,900.0 C1058.8,910.0 1060.8,920.0 1062.9,930.0 C1065.0,940.0 1067.1,950.5 1069.4,960.0 C1071.8,969.5 1074.6,980.4 1077.0,987.2 C1079.4,994.0 1081.5,996.7 1083.7,1000.6 C1085.9,1004.5 1087.6,1008.3 1090.4,1010.8 C1093.2,1013.3 1097.6,1014.6 1100.5,1015.8 C1103.4,1017.0 1104.1,1017.6 1108.0,1018.0 C1111.9,1018.4 1118.7,1018.1 1124.0,1018.2 C1129.3,1018.3 1127.2,1018.1 1140.0,1018.6 C1152.8,1019.1 1182.5,1020.2 1201.0,1021.0 C1219.5,1021.8 1234.2,1022.9 1251.0,1023.6 C1267.8,1024.3 1285.2,1024.9 1302.0,1025.3 C1318.8,1025.7 1336.8,1025.9 1352.0,1026.0 C1367.2,1026.1 1386.2,1025.8 1393.0,1025.8" fill="none" stroke="#000" stroke-width="6.8" stroke-linejoin="round" stroke-linecap="round"/>
<g stroke="#000" stroke-width="6" stroke-linecap="round"><line x1="252.4" y1="126.2" x2="255.6" y2="129.8"/><line x1="253.3" y1="139.3" x2="257.5" y2="142.7"/><line x1="261.3" y1="132.1" x2="262.7" y2="136.9"/><line x1="265.8" y1="130.2" x2="271.6" y2="128.2"/><line x1="273.8" y1="127.3" x2="274.2" y2="133.5"/><line x1="280.6" y1="130.2" x2="283.5" y2="131.5"/><line x1="284.4" y1="136.3" x2="291.0" y2="137.7"/><line x1="296.3" y1="132.9" x2="300.7" y2="136.1"/><line x1="304.2" y1="147.8" x2="303.8" y2="150.8"/><line x1="311.0" y1="153.5" x2="313.0" y2="155.9"/><line x1="317.4" y1="163.1" x2="317.4" y2="167.9"/><line x1="323.1" y1="182.5" x2="322.5" y2="188.9"/><line x1="329.9" y1="165.4" x2="331.9" y2="160.2"/><line x1="333.3" y1="153.8" x2="334.2" y2="157.8"/><line x1="336.6" y1="150.7" x2="341.4" y2="155.9"/><line x1="342.4" y1="164.1" x2="345.0" y2="169.3"/><line x1="346.4" y1="167.6" x2="347.6" y2="171.4"/><line x1="353.6" y1="155.4" x2="351.2" y2="159.4"/><line x1="354.5" y1="169.3" x2="358.2" y2="166.6"/><line x1="358.7" y1="151.1" x2="365.1" y2="150.1"/><line x1="373.1" y1="163.6" x2="372.1" y2="167.4"/><line x1="378.5" y1="167.8" x2="380.3" y2="163.2"/><line x1="380.7" y1="144.5" x2="383.3" y2="140.7"/><line x1="390.7" y1="146.1" x2="392.3" y2="149.9"/><line x1="394.6" y1="160.8" x2="396.4" y2="164.8"/><line x1="400.1" y1="151.4" x2="404.5" y2="147.2"/><line x1="415.8" y1="142.3" x2="415.8" y2="145.5"/><line x1="418.2" y1="148.2" x2="421.8" y2="149.3"/><line x1="424.0" y1="148.7" x2="426.4" y2="144.5"/><line x1="429.7" y1="130.1" x2="428.7" y2="135.9"/><line x1="442.4" y1="120.0" x2="443.0" y2="124.6"/><line x1="445.1" y1="122.5" x2="445.7" y2="126.5"/><line x1="448.5" y1="126.5" x2="452.6" y2="131.3"/><line x1="453.9" y1="131.6" x2="453.1" y2="136.2"/><line x1="458.2" y1="110.3" x2="462.2" y2="106.3"/><line x1="463.7" y1="119.7" x2="464.9" y2="126.5"/><line x1="466.9" y1="137.1" x2="467.1" y2="141.5"/><line x1="478.6" y1="123.1" x2="476.8" y2="125.9"/><line x1="482.5" y1="119.2" x2="483.7" y2="124.4"/><line x1="489.6" y1="128.7" x2="490.2" y2="133.5"/><line x1="492.1" y1="135.5" x2="495.7" y2="132.3"/><line x1="501.9" y1="122.0" x2="504.7" y2="116.2"/><line x1="512.7" y1="96.1" x2="510.1" y2="101.7"/><line x1="517.2" y1="104.4" x2="515.0" y2="107.5"/><line x1="519.4" y1="109.3" x2="522.4" y2="115.3"/><line x1="529.3" y1="126.4" x2="525.9" y2="130.6"/><line x1="536.6" y1="145.7" x2="537.4" y2="149.1"/><line x1="544.0" y1="136.1" x2="542.6" y2="141.8"/><line x1="547.6" y1="128.1" x2="548.0" y2="134.3"/><line x1="552.9" y1="124.6" x2="556.3" y2="127.0"/><line x1="557.2" y1="136.0" x2="557.2" y2="140.0"/><line x1="560.0" y1="116.6" x2="562.6" y2="110.8"/><line x1="568.6" y1="111.0" x2="571.3" y2="108.0"/><line x1="572.9" y1="98.7" x2="576.7" y2="99.1"/><line x1="587.9" y1="109.0" x2="588.5" y2="113.0"/><line x1="595.4" y1="106.1" x2="594.6" y2="110.5"/><line x1="598.3" y1="125.6" x2="599.7" y2="128.8"/><line x1="607.4" y1="132.0" x2="606.8" y2="138.6"/><line x1="611.4" y1="117.9" x2="616.2" y2="114.9"/><line x1="616.7" y1="126.1" x2="619.1" y2="130.9"/><line x1="626.2" y1="137.3" x2="625.8" y2="143.9"/><line x1="631.0" y1="139.6" x2="634.4" y2="133.6"/><line x1="638.1" y1="116.2" x2="638.1" y2="121.8"/><line x1="642.0" y1="98.1" x2="642.2" y2="105.1"/><line x1="645.4" y1="108.5" x2="647.0" y2="113.5"/><line x1="650.4" y1="124.1" x2="652.8" y2="130.3"/><line x1="654.1" y1="137.8" x2="659.9" y2="138.2"/><line x1="659.1" y1="130.6" x2="662.8" y2="125.1"/><line x1="664.0" y1="122.7" x2="666.0" y2="128.9"/><line x1="669.8" y1="114.0" x2="673.8" y2="118.8"/><line x1="676.9" y1="122.4" x2="680.1" y2="126.6"/><line x1="684.4" y1="135.0" x2="688.8" y2="135.6"/><line x1="693.4" y1="128.8" x2="696.6" y2="124.4"/><line x1="697.9" y1="113.9" x2="702.1" y2="118.9"/><line x1="703.5" y1="108.6" x2="707.5" y2="110.6"/><line x1="711.3" y1="121.8" x2="715.9" y2="124.4"/><line x1="720.6" y1="116.9" x2="725.4" y2="121.1"/><line x1="727.0" y1="140.6" x2="727.0" y2="146.0"/><line x1="736.3" y1="148.0" x2="736.7" y2="152.0"/><line x1="743.5" y1="138.9" x2="745.7" y2="134.3"/><line x1="750.1" y1="122.1" x2="752.5" y2="115.9"/><line x1="758.8" y1="98.9" x2="757.2" y2="104.3"/><line x1="768.8" y1="124.0" x2="768.8" y2="127.6"/><line x1="769.6" y1="123.0" x2="775.1" y2="122.3"/><line x1="778.9" y1="121.8" x2="777.5" y2="127.2"/><line x1="784.5" y1="147.7" x2="785.5" y2="152.3"/><line x1="790.8" y1="156.0" x2="792.6" y2="149.6"/><line x1="792.5" y1="125.3" x2="793.5" y2="120.9"/><line x1="797.8" y1="115.6" x2="801.8" y2="117.2"/><line x1="807.2" y1="127.4" x2="811.2" y2="132.4"/><line x1="813.8" y1="139.4" x2="818.2" y2="144.6"/><line x1="824.0" y1="145.6" x2="824.0" y2="149.2"/><line x1="829.9" y1="162.7" x2="830.1" y2="167.3"/><line x1="838.2" y1="143.0" x2="839.8" y2="138.2"/><line x1="845.3" y1="120.0" x2="843.7" y2="126.2"/><line x1="853.8" y1="130.7" x2="856.8" y2="134.5"/><line x1="864.3" y1="144.8" x2="862.3" y2="147.2"/><line x1="868.8" y1="157.2" x2="871.2" y2="161.8"/><line x1="878.6" y1="171.2" x2="877.8" y2="177.4"/><line x1="882.9" y1="180.5" x2="882.1" y2="183.5"/><line x1="885.5" y1="196.8" x2="887.1" y2="200.4"/><line x1="893.2" y1="202.7" x2="892.3" y2="205.8"/><line x1="901.1" y1="215.5" x2="903.7" y2="219.5"/><line x1="907.3" y1="226.1" x2="910.1" y2="230.9"/></g>
<g stroke="#000" stroke-width="6" stroke-linecap="round"><line x1="1107.8" y1="145.7" x2="1108.8" y2="149.1"/><line x1="1112.8" y1="118.4" x2="1114.6" y2="122.4"/><line x1="1120.9" y1="108.4" x2="1119.9" y2="113.6"/><line x1="1127.1" y1="101.1" x2="1132.7" y2="102.1"/><line x1="1131.7" y1="111.2" x2="1133.9" y2="115.4"/><line x1="1138.3" y1="124.1" x2="1137.7" y2="130.3"/><line x1="1140.4" y1="144.5" x2="1140.8" y2="150.3"/><line x1="1146.6" y1="135.3" x2="1148.2" y2="137.9"/><line x1="1154.0" y1="110.6" x2="1151.6" y2="116.8"/><line x1="1155.8" y1="125.8" x2="1157.8" y2="128.6"/><line x1="1161.0" y1="128.9" x2="1167.3" y2="131.4"/><line x1="1169.9" y1="130.5" x2="1170.7" y2="134.7"/><line x1="1176.0" y1="124.5" x2="1177.8" y2="121.3"/><line x1="1179.8" y1="113.9" x2="1182.2" y2="116.1"/><line x1="1185.6" y1="127.7" x2="1185.1" y2="133.9"/><line x1="1188.2" y1="123.6" x2="1190.2" y2="128.0"/><line x1="1201.7" y1="124.3" x2="1200.9" y2="127.3"/><line x1="1204.4" y1="132.4" x2="1209.0" y2="127.4"/><line x1="1212.2" y1="109.8" x2="1217.4" y2="112.2"/><line x1="1220.5" y1="133.9" x2="1222.5" y2="139.3"/><line x1="1231.8" y1="115.9" x2="1230.2" y2="119.5"/><line x1="1234.8" y1="123.8" x2="1237.8" y2="127.8"/><line x1="1245.3" y1="127.6" x2="1245.5" y2="133.8"/><line x1="1251.5" y1="120.8" x2="1252.6" y2="125.4"/><line x1="1256.1" y1="120.1" x2="1256.3" y2="126.1"/><line x1="1262.1" y1="115.8" x2="1263.3" y2="121.5"/><line x1="1266.9" y1="116.8" x2="1267.1" y2="120.8"/><line x1="1285.1" y1="114.3" x2="1285.5" y2="119.1"/><line x1="1300.2" y1="115.6" x2="1300.6" y2="119.8"/><line x1="1303.8" y1="123.2" x2="1301.2" y2="129.6"/><line x1="1305.5" y1="134.9" x2="1306.1" y2="141.5"/><line x1="1315.1" y1="122.1" x2="1313.7" y2="128.5"/><line x1="1318.6" y1="109.6" x2="1316.6" y2="113.0"/><line x1="1324.3" y1="113.1" x2="1328.3" y2="111.5"/><line x1="1335.2" y1="102.1" x2="1334.6" y2="107.5"/><line x1="1340.4" y1="114.3" x2="1342.2" y2="121.1"/><line x1="1344.4" y1="142.8" x2="1347.0" y2="144.4"/><line x1="1352.1" y1="121.1" x2="1352.1" y2="127.3"/><line x1="1357.1" y1="112.2" x2="1362.3" y2="110.4"/><line x1="1360.7" y1="118.5" x2="1362.9" y2="123.5"/><line x1="1372.4" y1="105.7" x2="1372.8" y2="112.5"/><line x1="1372.0" y1="117.0" x2="1375.4" y2="118.4"/><line x1="1381.2" y1="109.0" x2="1379.9" y2="115.6"/><line x1="1383.9" y1="110.6" x2="1385.1" y2="116.2"/><line x1="1384.0" y1="127.7" x2="1385.0" y2="131.5"/><line x1="1386.2" y1="119.0" x2="1387.0" y2="123.0"/><line x1="1389.5" y1="119.4" x2="1394.5" y2="116.6"/></g>
<line x1="916.7" y1="250.3" x2="920.4" y2="254.4" stroke="#000" stroke-width="6.2" stroke-linecap="round"/>
<line x1="922.7" y1="277.0" x2="928.4" y2="289.5" stroke="#000" stroke-width="6.2" stroke-linecap="round"/>
<line x1="931.0" y1="305.1" x2="932.2" y2="307.9" stroke="#000" stroke-width="6.2" stroke-linecap="round"/>
<line x1="934.4" y1="327.5" x2="935.4" y2="334.9" stroke="#000" stroke-width="6.2" stroke-linecap="round"/>
<line x1="936.3" y1="348.1" x2="937.3" y2="355.5" stroke="#000" stroke-width="6.2" stroke-linecap="round"/>
<line x1="939.6" y1="367.7" x2="950.8" y2="387.7" stroke="#000" stroke-width="6.2" stroke-linecap="round"/>
<line x1="952.0" y1="411.5" x2="953.0" y2="418.0" stroke="#000" stroke-width="6.2" stroke-linecap="round"/>
<line x1="954.8" y1="430.2" x2="955.8" y2="437.1" stroke="#000" stroke-width="6.2" stroke-linecap="round"/>
<line x1="955.3" y1="459.2" x2="960.0" y2="466.1" stroke="#000" stroke-width="6.2" stroke-linecap="round"/>
<line x1="960.4" y1="488.3" x2="961.4" y2="495.6" stroke="#000" stroke-width="6.2" stroke-linecap="round"/>
<line x1="962.7" y1="513.5" x2="963.7" y2="518.6" stroke="#000" stroke-width="6.2" stroke-linecap="round"/>
<line x1="965.5" y1="528.5" x2="966.5" y2="533.5" stroke="#000" stroke-width="6.2" stroke-linecap="round"/>
<line x1="968.8" y1="556.6" x2="969.8" y2="564.9" stroke="#000" stroke-width="6.2" stroke-linecap="round"/>
<line x1="971.1" y1="586.5" x2="972.1" y2="591.5" stroke="#000" stroke-width="6.2" stroke-linecap="round"/>
<line x1="974.3" y1="613.1" x2="975.3" y2="618.9" stroke="#000" stroke-width="6.2" stroke-linecap="round"/>
<line x1="976.3" y1="643.3" x2="977.3" y2="650.2" stroke="#000" stroke-width="6.2" stroke-linecap="round"/>
<line x1="979.2" y1="662.1" x2="980.2" y2="669.4" stroke="#000" stroke-width="6.2" stroke-linecap="round"/>
<line x1="982.4" y1="692.0" x2="983.4" y2="696.6" stroke="#000" stroke-width="6.2" stroke-linecap="round"/>
<line x1="985.2" y1="716.8" x2="986.2" y2="724.2" stroke="#000" stroke-width="6.2" stroke-linecap="round"/>
<line x1="985.7" y1="747.7" x2="990.4" y2="763.5" stroke="#000" stroke-width="6.2" stroke-linecap="round"/>
<line x1="990.8" y1="785.6" x2="991.8" y2="792.9" stroke="#000" stroke-width="6.2" stroke-linecap="round"/>
<line x1="992.1" y1="815.3" x2="993.1" y2="824.0" stroke="#000" stroke-width="6.2" stroke-linecap="round"/>
<line x1="994.5" y1="844.3" x2="995.5" y2="853.0" stroke="#000" stroke-width="6.2" stroke-linecap="round"/>
<line x1="997.3" y1="873.3" x2="998.3" y2="876.4" stroke="#000" stroke-width="6.2" stroke-linecap="round"/>
<line x1="1000.0" y1="890.1" x2="1001.2" y2="897.5" stroke="#000" stroke-width="6.2" stroke-linecap="round"/>
<line x1="1002.3" y1="919.6" x2="1003.5" y2="926.5" stroke="#000" stroke-width="6.2" stroke-linecap="round"/>
<line x1="1006.2" y1="938.3" x2="1009.0" y2="945.2" stroke="#000" stroke-width="6.2" stroke-linecap="round"/>
<line x1="1008.0" y1="967.8" x2="1012.3" y2="972.8" stroke="#000" stroke-width="6.2" stroke-linecap="round"/>
<line x1="1103.6" y1="169.2" x2="1103.6" y2="177.3" stroke="#000" stroke-width="6.2" stroke-linecap="round"/>
<line x1="1098.0" y1="183.0" x2="1093.9" y2="187.5" stroke="#000" stroke-width="6.2" stroke-linecap="round"/>
<line x1="1093.3" y1="211.1" x2="1092.5" y2="219.1" stroke="#000" stroke-width="6.2" stroke-linecap="round"/>
<line x1="1091.2" y1="241.7" x2="1090.4" y2="248.7" stroke="#000" stroke-width="6.2" stroke-linecap="round"/>
<line x1="1088.7" y1="271.3" x2="1087.9" y2="277.8" stroke="#000" stroke-width="6.2" stroke-linecap="round"/>
<line x1="1086.6" y1="300.9" x2="1085.8" y2="308.9" stroke="#000" stroke-width="6.2" stroke-linecap="round"/>
<line x1="1084.1" y1="330.4" x2="1083.3" y2="337.5" stroke="#000" stroke-width="6.2" stroke-linecap="round"/>
<line x1="1083.6" y1="360.5" x2="1082.8" y2="367.1" stroke="#000" stroke-width="6.2" stroke-linecap="round"/>
<line x1="1081.6" y1="388.7" x2="1080.8" y2="397.0" stroke="#000" stroke-width="6.2" stroke-linecap="round"/>
<line x1="1078.8" y1="417.3" x2="1078.0" y2="424.6" stroke="#000" stroke-width="6.2" stroke-linecap="round"/>
<line x1="1077.4" y1="447.7" x2="1076.6" y2="455.5" stroke="#000" stroke-width="6.2" stroke-linecap="round"/>
<line x1="1075.5" y1="478.1" x2="1074.7" y2="485.0" stroke="#000" stroke-width="6.2" stroke-linecap="round"/>
<line x1="1074.6" y1="506.6" x2="1073.8" y2="514.5" stroke="#000" stroke-width="6.2" stroke-linecap="round"/>
<line x1="1073.2" y1="537.0" x2="1072.4" y2="544.4" stroke="#000" stroke-width="6.2" stroke-linecap="round"/>
<line x1="1071.3" y1="566.1" x2="1070.5" y2="572.9" stroke="#000" stroke-width="6.2" stroke-linecap="round"/>
<line x1="1068.9" y1="595.5" x2="1068.1" y2="603.9" stroke="#000" stroke-width="6.2" stroke-linecap="round"/>
<line x1="1067.8" y1="626.5" x2="1067.0" y2="633.4" stroke="#000" stroke-width="6.2" stroke-linecap="round"/>
<line x1="1065.5" y1="656.0" x2="1064.7" y2="662.9" stroke="#000" stroke-width="6.2" stroke-linecap="round"/>
<line x1="1063.6" y1="685.5" x2="1062.8" y2="692.8" stroke="#000" stroke-width="6.2" stroke-linecap="round"/>
<line x1="1061.7" y1="714.9" x2="1060.9" y2="721.8" stroke="#000" stroke-width="6.2" stroke-linecap="round"/>
<line x1="1059.9" y1="744.9" x2="1059.1" y2="752.7" stroke="#000" stroke-width="6.2" stroke-linecap="round"/>
<line x1="1056.7" y1="775.3" x2="1054.3" y2="795.3" stroke="#000" stroke-width="6.2" stroke-linecap="round"/>
<line x1="1052.9" y1="811.8" x2="1052.1" y2="818.9" stroke="#000" stroke-width="6.2" stroke-linecap="round"/>
<line x1="1050.3" y1="839.1" x2="1049.3" y2="845.9" stroke="#000" stroke-width="6.2" stroke-linecap="round"/>
<line x1="1048.0" y1="867.1" x2="1047.0" y2="872.9" stroke="#000" stroke-width="6.2" stroke-linecap="round"/>
<line x1="1045.0" y1="894.3" x2="1044.2" y2="901.2" stroke="#000" stroke-width="6.2" stroke-linecap="round"/>
<line x1="1043.1" y1="915.4" x2="1042.3" y2="922.3" stroke="#000" stroke-width="6.2" stroke-linecap="round"/>
<line x1="1041.3" y1="945.3" x2="1036.1" y2="961.6" stroke="#000" stroke-width="6.2" stroke-linecap="round"/>
<line x1="1034.2" y1="986.5" x2="1033.4" y2="990.6" stroke="#000" stroke-width="6.2" stroke-linecap="round"/>
<path d="M1014.6,989 L1019.5,1004 L1024,1013.8 L1030.3,1000" fill="none" stroke="#000" stroke-width="6.2" stroke-linecap="round" stroke-linejoin="round"/>
<rect x="251.2" y="24.0" width="1145.6" height="2108.0" fill="none" stroke="#000" stroke-width="5.8"/>
<line x1="251.2" y1="1078.3" x2="1396.8" y2="1078.3" stroke="#000" stroke-width="5.8"/>
<line x1="251.2" y1="1078.30" x2="273.0" y2="1078.30" stroke="#000" stroke-width="5.6"/>
<line x1="251.2" y1="982.45" x2="263.0" y2="982.45" stroke="#000" stroke-width="5.6"/>
<line x1="251.2" y1="886.60" x2="273.0" y2="886.60" stroke="#000" stroke-width="5.6"/>
<line x1="251.2" y1="790.75" x2="263.0" y2="790.75" stroke="#000" stroke-width="5.6"/>
<line x1="251.2" y1="694.90" x2="273.0" y2="694.90" stroke="#000" stroke-width="5.6"/>
<line x1="251.2" y1="599.05" x2="263.0" y2="599.05" stroke="#000" stroke-width="5.6"/>
<line x1="251.2" y1="503.20" x2="273.0" y2="503.20" stroke="#000" stroke-width="5.6"/>
<line x1="251.2" y1="407.35" x2="263.0" y2="407.35" stroke="#000" stroke-width="5.6"/>
<line x1="251.2" y1="311.50" x2="273.0" y2="311.50" stroke="#000" stroke-width="5.6"/>
<line x1="251.2" y1="215.65" x2="263.0" y2="215.65" stroke="#000" stroke-width="5.6"/>
<line x1="251.2" y1="119.80" x2="273.0" y2="119.80" stroke="#000" stroke-width="5.6"/>
<line x1="363.12" y1="2132.0" x2="363.12" y2="2122.0" stroke="#000" stroke-width="5.6"/>
<line x1="510.90" y1="2132.0" x2="510.90" y2="2113.0" stroke="#000" stroke-width="5.6"/>
<line x1="658.68" y1="2132.0" x2="658.68" y2="2122.0" stroke="#000" stroke-width="5.6"/>
<line x1="806.46" y1="2132.0" x2="806.46" y2="2113.0" stroke="#000" stroke-width="5.6"/>
<line x1="954.24" y1="2132.0" x2="954.24" y2="2122.0" stroke="#000" stroke-width="5.6"/>
<line x1="1102.02" y1="2132.0" x2="1102.02" y2="2113.0" stroke="#000" stroke-width="5.6"/>
<line x1="1249.80" y1="2132.0" x2="1249.80" y2="2122.0" stroke="#000" stroke-width="5.6"/>
<text transform="translate(190.94,1096.86) scale(1.0000,1.0173)" font-family="Liberation Sans, sans-serif" font-size="74">0</text>
<text transform="translate(149.78,905.16) scale(1.0000,1.0173)" font-family="Liberation Sans, sans-serif" font-size="74">20</text>
<text transform="translate(149.78,713.46) scale(1.0000,1.0173)" font-family="Liberation Sans, sans-serif" font-size="74">40</text>
<text transform="translate(149.78,521.76) scale(1.0000,1.0173)" font-family="Liberation Sans, sans-serif" font-size="74">60</text>
<text transform="translate(149.78,330.06) scale(1.0000,1.0173)" font-family="Liberation Sans, sans-serif" font-size="74">80</text>
<text transform="translate(108.62,138.36) scale(1.0000,1.0173)" font-family="Liberation Sans, sans-serif" font-size="74">100</text>
<text transform="translate(450.08,2211.47) scale(0.9850,1.0135)" font-family="Liberation Sans, sans-serif" font-size="74">200</text>
<text transform="translate(746.64,2211.47) scale(0.9850,1.0135)" font-family="Liberation Sans, sans-serif" font-size="74">400</text>
<text transform="translate(1041.19,2211.47) scale(0.9850,1.0135)" font-family="Liberation Sans, sans-serif" font-size="74">600</text>
<text transform="translate(1337.01,2211.47) scale(0.9850,1.0135)" font-family="Liberation Sans, sans-serif" font-size="74">800</text>
<text transform="translate(1263.30,242.22) scale(0.8734,0.9887)" font-family="Liberation Sans, sans-serif" font-size="60">DTG</text>
<text transform="translate(1301.83,977.61) scale(0.8672,1.0075)" font-family="Liberation Sans, sans-serif" font-size="60">TG</text>
<text transform="translate(962.29,1307.00) scale(1.0173,0.9735)" font-family="Liberation Sans, sans-serif" font-size="60" font-style="italic">m</text>
<line x1="1016.20" y1="1315.70" x2="1036.60" y2="1259.30" stroke="#000" stroke-width="3.60"/>
<text transform="translate(1038.70,1307.00) scale(0.8669,0.9653)" font-family="Liberation Sans, sans-serif" font-size="60" font-style="italic">z</text>
<text transform="translate(1080.27,1306.02) scale(0.9331,0.8947)" font-family="Liberation Sans, sans-serif" font-size="60">=</text>
<text transform="translate(1128.74,1307.21) scale(0.9973,1.0099)" font-family="Liberation Sans, sans-serif" font-size="60">18</text>
<text transform="translate(1211.54,1305.69) scale(0.8486,1.2487)" font-family="Liberation Sans, sans-serif" font-size="60">(</text>
<text transform="translate(1233.70,1306.50) scale(0.9548,1.0102)" font-family="Liberation Sans, sans-serif" font-size="60">H</text>
<text transform="translate(1275.81,1319.30) scale(0.5597,0.5800)" font-family="Liberation Sans, sans-serif" font-size="60">2</text>
<text transform="translate(1296.03,1307.79) scale(0.9058,1.0405)" font-family="Liberation Sans, sans-serif" font-size="60">O</text>
<text transform="translate(1337.16,1275.72) scale(0.5935,0.6098)" font-family="Liberation Sans, sans-serif" font-size="60">+</text>
<text transform="translate(1362.30,1305.69) scale(0.8423,1.2487)" font-family="Liberation Sans, sans-serif" font-size="60">)</text>
<text transform="translate(277.59,2005.00) scale(1.0173,0.9766)" font-family="Liberation Sans, sans-serif" font-size="60" font-style="italic">m</text>
<line x1="330.80" y1="2013.30" x2="352.40" y2="1957.70" stroke="#000" stroke-width="3.60"/>
<text transform="translate(355.59,2005.00) scale(0.8161,0.9779)" font-family="Liberation Sans, sans-serif" font-size="60" font-style="italic">z</text>
<text transform="translate(395.54,2004.29) scale(0.9434,0.9516)" font-family="Liberation Sans, sans-serif" font-size="60">=</text>
<text transform="translate(444.04,2004.40) scale(0.9119,0.9835)" font-family="Liberation Sans, sans-serif" font-size="60">44</text>
<text transform="translate(529.14,2002.60) scale(0.8235,1.1914)" font-family="Liberation Sans, sans-serif" font-size="60">(</text>
<text transform="translate(551.38,2005.20) scale(0.8611,1.0216)" font-family="Liberation Sans, sans-serif" font-size="60">CO</text>
<text transform="translate(627.38,2016.00) scale(0.6366,0.5872)" font-family="Liberation Sans, sans-serif" font-size="60">2</text>
<text transform="translate(647.85,1971.33) scale(0.5969,0.5927)" font-family="Liberation Sans, sans-serif" font-size="60">+</text>
<text transform="translate(670.68,2002.60) scale(0.9115,1.1914)" font-family="Liberation Sans, sans-serif" font-size="60">)</text>
<text transform="translate(83.89,721.34) rotate(-90) scale(1.1479,1.2047)" font-family="Liberation Sans, sans-serif" font-size="60" font-style="italic">mass</text>
<line x1="94.10" y1="534.90" x2="26.20" y2="509.40" stroke="#000" stroke-width="3.60"/>
<text transform="translate(84.24,486.85) rotate(-90) scale(1.0515,1.2982)" font-family="Liberation Sans, sans-serif" font-size="60">%</text>
<text transform="translate(171.26,1885.04) rotate(-90) scale(1.1609,1.2594)" font-family="Liberation Sans, sans-serif" font-size="60" font-style="italic">MS:</text>
<text transform="translate(170.30,1742.81) rotate(-90) scale(1.2556,1.1938)" font-family="Liberation Sans, sans-serif" font-size="60" font-style="italic">ion</text>
<text transform="translate(171.29,1622.67) rotate(-90) scale(1.2603,1.2140)" font-family="Liberation Sans, sans-serif" font-size="60" font-style="italic">current</text>
<text transform="translate(577.52,2322.69) scale(1.2755,1.1573)" font-family="Liberation Sans, sans-serif" font-size="60" font-style="italic">temperature</text>
<line x1="1010.20" y1="2333.10" x2="1035.70" y2="2265.80" stroke="#000" stroke-width="3.60"/>
<text transform="translate(1056.15,2316.26) scale(1.1061,1.1138)" font-family="Liberation Sans, sans-serif" font-size="60">&#176;</text>
<text transform="translate(1085.42,2323.76) scale(0.9790,1.2547)" font-family="Liberation Sans, sans-serif" font-size="60">C</text></svg>
</body></html>
